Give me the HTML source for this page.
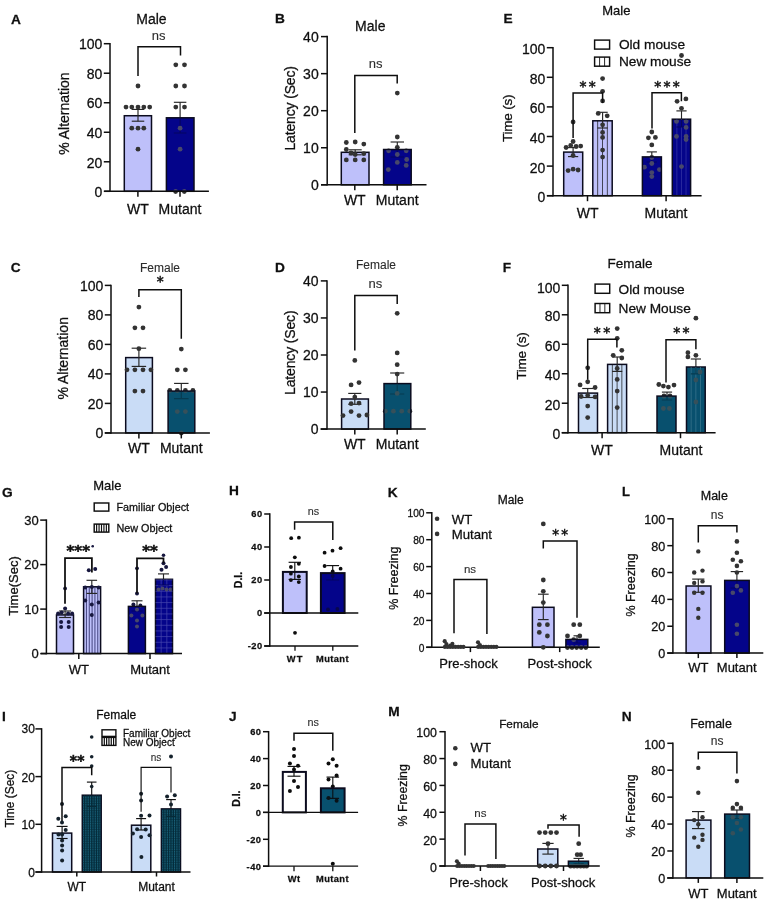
<!DOCTYPE html>
<html lang="en">
<head>
<meta charset="utf-8">
<title>Figure</title>
<style>
html,body{margin:0;padding:0;background:#fff;}
body{width:767px;height:903px;overflow:hidden;}
svg{display:block;font-family:"Liberation Sans",Arial,sans-serif;}
text{stroke:#1a1a1a;stroke-width:0.28px;paint-order:stroke fill;}
</style>
</head>
<body>
<svg width="767" height="903" viewBox="0 0 767 903">
<rect x="0" y="0" width="767" height="903" fill="#ffffff"/>
<g>
<text x="16" y="23.53" font-size="13.7" text-anchor="middle" font-weight="bold" fill="#0e0e0e">A</text>
<text x="151.5" y="23.64" font-size="14" text-anchor="middle" font-weight="normal" fill="#0e0e0e">Male</text>
<rect x="124.3" y="115.73" width="27.2" height="75.57" fill="#bec0fa" stroke="#0b0b1e" stroke-width="1.5"/>
<line x1="180.1" y1="102.3" x2="180.1" y2="133" stroke="#262626" stroke-width="1.15"/>
<line x1="173.85" y1="102.3" x2="186.35" y2="102.3" stroke="#262626" stroke-width="1.15"/>
<line x1="173.85" y1="133" x2="186.35" y2="133" stroke="#262626" stroke-width="1.15"/>
<circle cx="175.8" cy="64.8" r="2.4" fill="#333333"/>
<circle cx="184.5" cy="64.8" r="2.4" fill="#333333"/>
<circle cx="175.8" cy="86" r="2.4" fill="#333333"/>
<circle cx="184.5" cy="86" r="2.4" fill="#333333"/>
<circle cx="175.8" cy="107.1" r="2.4" fill="#333333"/>
<circle cx="184.5" cy="107.1" r="2.4" fill="#333333"/>
<circle cx="180.1" cy="128.2" r="2.4" fill="#333333"/>
<circle cx="180.1" cy="149.2" r="2.4" fill="#333333"/>
<circle cx="175.6" cy="191.5" r="2.4" fill="#333333"/>
<circle cx="184.3" cy="191.5" r="2.4" fill="#333333"/>
<rect x="166.4" y="117.8" width="27.6" height="73.5" fill="#04048a" stroke="#0b0b1e" stroke-width="1.5"/>
<clipPath id="cb1"><rect x="167.15" y="118.55" width="26.1" height="72"/></clipPath>
<g clip-path="url(#cb1)">
<line x1="180.1" y1="102.3" x2="180.1" y2="133" stroke="#050560" stroke-width="1.15"/>
<line x1="173.85" y1="102.3" x2="186.35" y2="102.3" stroke="#050560" stroke-width="1.15"/>
<line x1="173.85" y1="133" x2="186.35" y2="133" stroke="#050560" stroke-width="1.15"/>
<circle cx="175.8" cy="64.8" r="2.4" fill="#48486a"/>
<circle cx="184.5" cy="64.8" r="2.4" fill="#48486a"/>
<circle cx="175.8" cy="86" r="2.4" fill="#48486a"/>
<circle cx="184.5" cy="86" r="2.4" fill="#48486a"/>
<circle cx="175.8" cy="107.1" r="2.4" fill="#48486a"/>
<circle cx="184.5" cy="107.1" r="2.4" fill="#48486a"/>
<circle cx="180.1" cy="128.2" r="2.4" fill="#48486a"/>
<circle cx="180.1" cy="149.2" r="2.4" fill="#48486a"/>
<circle cx="175.6" cy="191.5" r="2.4" fill="#48486a"/>
<circle cx="184.3" cy="191.5" r="2.4" fill="#48486a"/>
</g>
<line x1="110" y1="42.95" x2="110" y2="192.05" stroke="#0e0e0e" stroke-width="1.5"/>
<line x1="103.8" y1="191.3" x2="110" y2="191.3" stroke="#0e0e0e" stroke-width="1.5"/>
<text x="102.4" y="197.04" font-size="14" text-anchor="end" font-weight="normal" fill="#0e0e0e">0</text>
<line x1="103.8" y1="161.78" x2="110" y2="161.78" stroke="#0e0e0e" stroke-width="1.5"/>
<text x="102.4" y="167.52" font-size="14" text-anchor="end" font-weight="normal" fill="#0e0e0e">20</text>
<line x1="103.8" y1="132.26" x2="110" y2="132.26" stroke="#0e0e0e" stroke-width="1.5"/>
<text x="102.4" y="138" font-size="14" text-anchor="end" font-weight="normal" fill="#0e0e0e">40</text>
<line x1="103.8" y1="102.74" x2="110" y2="102.74" stroke="#0e0e0e" stroke-width="1.5"/>
<text x="102.4" y="108.48" font-size="14" text-anchor="end" font-weight="normal" fill="#0e0e0e">60</text>
<line x1="103.8" y1="73.22" x2="110" y2="73.22" stroke="#0e0e0e" stroke-width="1.5"/>
<text x="102.4" y="78.96" font-size="14" text-anchor="end" font-weight="normal" fill="#0e0e0e">80</text>
<line x1="103.8" y1="43.7" x2="110" y2="43.7" stroke="#0e0e0e" stroke-width="1.5"/>
<text x="102.4" y="49.44" font-size="14" text-anchor="end" font-weight="normal" fill="#0e0e0e">100</text>
<line x1="104.2" y1="191.3" x2="208.9" y2="191.3" stroke="#0e0e0e" stroke-width="1.5"/>
<line x1="137.9" y1="191.3" x2="137.9" y2="196.8" stroke="#0e0e0e" stroke-width="1.5"/>
<line x1="180" y1="191.3" x2="180" y2="196.8" stroke="#0e0e0e" stroke-width="1.5"/>
<line x1="138" y1="109.4" x2="138" y2="121.2" stroke="#262626" stroke-width="1.15"/>
<line x1="131.75" y1="109.4" x2="144.25" y2="109.4" stroke="#262626" stroke-width="1.15"/>
<line x1="131.75" y1="121.2" x2="144.25" y2="121.2" stroke="#262626" stroke-width="1.15"/>
<circle cx="138" cy="86" r="2.4" fill="#333333"/>
<circle cx="126" cy="107.1" r="2.4" fill="#333333"/>
<circle cx="131.8" cy="107.1" r="2.4" fill="#333333"/>
<circle cx="138" cy="107.1" r="2.4" fill="#333333"/>
<circle cx="143.8" cy="107.1" r="2.4" fill="#333333"/>
<circle cx="149.7" cy="107.1" r="2.4" fill="#333333"/>
<circle cx="131.8" cy="128.2" r="2.4" fill="#333333"/>
<circle cx="138" cy="128.2" r="2.4" fill="#333333"/>
<circle cx="143.8" cy="128.2" r="2.4" fill="#333333"/>
<circle cx="138" cy="149.2" r="2.4" fill="#333333"/>
<polyline points="138,76 138,46.7 180.5,46.7 180.5,55.6" fill="none" stroke="#0e0e0e" stroke-width="1.5"/>
<text x="158.6" y="40.18" font-size="13" text-anchor="middle" font-weight="normal" fill="#2b2b2b" style="stroke-width:0.1px">ns</text>
<text x="137.9" y="213.84" font-size="14" text-anchor="middle" font-weight="normal" fill="#0e0e0e">WT</text>
<text x="180" y="213.84" font-size="14" text-anchor="middle" font-weight="normal" fill="#0e0e0e">Mutant</text>
<text transform="translate(63.6 113.6) rotate(-90)" x="0" y="5.04" font-size="14" text-anchor="middle" font-weight="normal" fill="#0e0e0e">% Alternation</text>
</g>
<g>
<text x="280" y="23.23" font-size="13.7" text-anchor="middle" font-weight="bold" fill="#0e0e0e">B</text>
<text x="370.3" y="31.04" font-size="14" text-anchor="middle" font-weight="normal" fill="#0e0e0e">Male</text>
<rect x="341.3" y="152.3" width="27.7" height="32.5" fill="#bec0fa" stroke="#0b0b1e" stroke-width="1.5"/>
<line x1="397.3" y1="142" x2="397.3" y2="157" stroke="#262626" stroke-width="1.15"/>
<line x1="390.6" y1="142" x2="404" y2="142" stroke="#262626" stroke-width="1.15"/>
<line x1="390.6" y1="157" x2="404" y2="157" stroke="#262626" stroke-width="1.15"/>
<circle cx="397.3" cy="93.1" r="2.4" fill="#333333"/>
<circle cx="397.3" cy="137" r="2.4" fill="#333333"/>
<circle cx="397.3" cy="147.3" r="2.4" fill="#333333"/>
<circle cx="388.6" cy="150.8" r="2.4" fill="#333333"/>
<circle cx="406.2" cy="150.8" r="2.4" fill="#333333"/>
<circle cx="397.3" cy="154.5" r="2.4" fill="#333333"/>
<circle cx="406.7" cy="159.5" r="2.4" fill="#333333"/>
<circle cx="397.3" cy="162.4" r="2.4" fill="#333333"/>
<circle cx="406.2" cy="165.4" r="2.4" fill="#333333"/>
<circle cx="388.3" cy="169.6" r="2.4" fill="#333333"/>
<rect x="383.6" y="149.5" width="27.6" height="35.3" fill="#04048a" stroke="#0b0b1e" stroke-width="1.5"/>
<clipPath id="cb2"><rect x="384.35" y="150.25" width="26.1" height="33.8"/></clipPath>
<g clip-path="url(#cb2)">
<line x1="397.3" y1="142" x2="397.3" y2="157" stroke="#050560" stroke-width="1.15"/>
<line x1="390.6" y1="142" x2="404" y2="142" stroke="#050560" stroke-width="1.15"/>
<line x1="390.6" y1="157" x2="404" y2="157" stroke="#050560" stroke-width="1.15"/>
<circle cx="397.3" cy="93.1" r="2.4" fill="#48486a"/>
<circle cx="397.3" cy="137" r="2.4" fill="#48486a"/>
<circle cx="397.3" cy="147.3" r="2.4" fill="#48486a"/>
<circle cx="388.6" cy="150.8" r="2.4" fill="#48486a"/>
<circle cx="406.2" cy="150.8" r="2.4" fill="#48486a"/>
<circle cx="397.3" cy="154.5" r="2.4" fill="#48486a"/>
<circle cx="406.7" cy="159.5" r="2.4" fill="#48486a"/>
<circle cx="397.3" cy="162.4" r="2.4" fill="#48486a"/>
<circle cx="406.2" cy="165.4" r="2.4" fill="#48486a"/>
<circle cx="388.3" cy="169.6" r="2.4" fill="#48486a"/>
</g>
<line x1="327.2" y1="35.85" x2="327.2" y2="185.55" stroke="#0e0e0e" stroke-width="1.5"/>
<line x1="321" y1="184.8" x2="327.2" y2="184.8" stroke="#0e0e0e" stroke-width="1.5"/>
<text x="318.7" y="190.14" font-size="14" text-anchor="end" font-weight="normal" fill="#0e0e0e">0</text>
<line x1="321" y1="147.75" x2="327.2" y2="147.75" stroke="#0e0e0e" stroke-width="1.5"/>
<text x="318.7" y="153.09" font-size="14" text-anchor="end" font-weight="normal" fill="#0e0e0e">10</text>
<line x1="321" y1="110.7" x2="327.2" y2="110.7" stroke="#0e0e0e" stroke-width="1.5"/>
<text x="318.7" y="116.04" font-size="14" text-anchor="end" font-weight="normal" fill="#0e0e0e">20</text>
<line x1="321" y1="73.65" x2="327.2" y2="73.65" stroke="#0e0e0e" stroke-width="1.5"/>
<text x="318.7" y="78.99" font-size="14" text-anchor="end" font-weight="normal" fill="#0e0e0e">30</text>
<line x1="321" y1="36.6" x2="327.2" y2="36.6" stroke="#0e0e0e" stroke-width="1.5"/>
<text x="318.7" y="41.94" font-size="14" text-anchor="end" font-weight="normal" fill="#0e0e0e">40</text>
<line x1="321" y1="184.8" x2="426.5" y2="184.8" stroke="#0e0e0e" stroke-width="1.5"/>
<line x1="354.8" y1="184.8" x2="354.8" y2="190.3" stroke="#0e0e0e" stroke-width="1.5"/>
<line x1="397.2" y1="184.8" x2="397.2" y2="190.3" stroke="#0e0e0e" stroke-width="1.5"/>
<line x1="355.2" y1="149.8" x2="355.2" y2="154.8" stroke="#262626" stroke-width="1.15"/>
<line x1="348.7" y1="149.8" x2="361.7" y2="149.8" stroke="#262626" stroke-width="1.15"/>
<line x1="348.7" y1="154.8" x2="361.7" y2="154.8" stroke="#262626" stroke-width="1.15"/>
<circle cx="346.3" cy="142.5" r="2.4" fill="#333333"/>
<circle cx="355.2" cy="142" r="2.4" fill="#333333"/>
<circle cx="363.8" cy="144.1" r="2.4" fill="#333333"/>
<circle cx="346.3" cy="149.5" r="2.4" fill="#333333"/>
<circle cx="351" cy="153" r="2.4" fill="#333333"/>
<circle cx="355.2" cy="154.5" r="2.4" fill="#333333"/>
<circle cx="363.8" cy="153.7" r="2.4" fill="#333333"/>
<circle cx="346.3" cy="159.9" r="2.4" fill="#333333"/>
<circle cx="355.2" cy="159.9" r="2.4" fill="#333333"/>
<circle cx="363.8" cy="159.9" r="2.4" fill="#333333"/>
<polyline points="354.8,133.1 354.8,75.4 397.2,75.4 397.2,83.4" fill="none" stroke="#0e0e0e" stroke-width="1.5"/>
<text x="375.7" y="67.58" font-size="13" text-anchor="middle" font-weight="normal" fill="#2b2b2b" style="stroke-width:0.1px">ns</text>
<text x="354.8" y="205.04" font-size="14" text-anchor="middle" font-weight="normal" fill="#0e0e0e">WT</text>
<text x="397.2" y="205.04" font-size="14" text-anchor="middle" font-weight="normal" fill="#0e0e0e">Mutant</text>
<text transform="translate(290 108.3) rotate(-90)" x="-0.07" y="5.04" font-size="14" text-anchor="middle" font-weight="normal" fill="#0e0e0e" letter-spacing="-0.15">Latency (Sec)</text>
</g>
<g>
<text x="508" y="23.23" font-size="13.7" text-anchor="middle" font-weight="bold" fill="#0e0e0e">E</text>
<text x="616.3" y="14.68" font-size="13" text-anchor="middle" font-weight="normal" fill="#0e0e0e">Male</text>
<rect x="563.7" y="152.1" width="19" height="43.6" fill="#bec0fa" stroke="#0b0b1e" stroke-width="1.5"/>
<rect x="592.8" y="120.8" width="19.4" height="74.9" fill="#bec0fa" stroke="#0b0b1e" stroke-width="1.5"/>
<line x1="597.65" y1="120.8" x2="597.65" y2="195.7" stroke="#0e0e0e" stroke-width="0.7"/>
<line x1="602.5" y1="120.8" x2="602.5" y2="195.7" stroke="#0e0e0e" stroke-width="0.7"/>
<line x1="607.35" y1="120.8" x2="607.35" y2="195.7" stroke="#0e0e0e" stroke-width="0.7"/>
<line x1="651.8" y1="151.9" x2="651.8" y2="162" stroke="#262626" stroke-width="1.15"/>
<line x1="646.7" y1="151.9" x2="656.9" y2="151.9" stroke="#262626" stroke-width="1.15"/>
<line x1="646.7" y1="162" x2="656.9" y2="162" stroke="#262626" stroke-width="1.15"/>
<circle cx="651.8" cy="132" r="2.4" fill="#333333"/>
<circle cx="648.4" cy="137.8" r="2.4" fill="#333333"/>
<circle cx="655.4" cy="137.4" r="2.4" fill="#333333"/>
<circle cx="651.8" cy="144.9" r="2.4" fill="#333333"/>
<circle cx="651.8" cy="157.5" r="2.4" fill="#333333"/>
<circle cx="651.8" cy="163.5" r="2.4" fill="#333333"/>
<circle cx="644.4" cy="167.2" r="2.4" fill="#333333"/>
<circle cx="659.4" cy="169.6" r="2.4" fill="#333333"/>
<circle cx="651.8" cy="172.6" r="2.4" fill="#333333"/>
<circle cx="651.8" cy="176.6" r="2.4" fill="#333333"/>
<rect x="642.4" y="156.9" width="19" height="38.8" fill="#04048a" stroke="#0b0b1e" stroke-width="1.5"/>
<clipPath id="cb3"><rect x="643.15" y="157.65" width="17.5" height="37.3"/></clipPath>
<g clip-path="url(#cb3)">
<line x1="651.8" y1="151.9" x2="651.8" y2="162" stroke="#050560" stroke-width="1.15"/>
<line x1="646.7" y1="151.9" x2="656.9" y2="151.9" stroke="#050560" stroke-width="1.15"/>
<line x1="646.7" y1="162" x2="656.9" y2="162" stroke="#050560" stroke-width="1.15"/>
<circle cx="651.8" cy="132" r="2.4" fill="#48486a"/>
<circle cx="648.4" cy="137.8" r="2.4" fill="#48486a"/>
<circle cx="655.4" cy="137.4" r="2.4" fill="#48486a"/>
<circle cx="651.8" cy="144.9" r="2.4" fill="#48486a"/>
<circle cx="651.8" cy="157.5" r="2.4" fill="#48486a"/>
<circle cx="651.8" cy="163.5" r="2.4" fill="#48486a"/>
<circle cx="644.4" cy="167.2" r="2.4" fill="#48486a"/>
<circle cx="659.4" cy="169.6" r="2.4" fill="#48486a"/>
<circle cx="651.8" cy="172.6" r="2.4" fill="#48486a"/>
<circle cx="651.8" cy="176.6" r="2.4" fill="#48486a"/>
</g>
<line x1="681.5" y1="110.9" x2="681.5" y2="127" stroke="#262626" stroke-width="1.15"/>
<line x1="676.4" y1="110.9" x2="686.6" y2="110.9" stroke="#262626" stroke-width="1.15"/>
<line x1="676.4" y1="127" x2="686.6" y2="127" stroke="#262626" stroke-width="1.15"/>
<circle cx="681.5" cy="55.5" r="2.4" fill="#333333"/>
<circle cx="677.1" cy="101.3" r="2.4" fill="#333333"/>
<circle cx="685.9" cy="98.9" r="2.4" fill="#333333"/>
<circle cx="681.5" cy="108.3" r="2.4" fill="#333333"/>
<circle cx="676.5" cy="121.4" r="2.4" fill="#333333"/>
<circle cx="686.1" cy="121.4" r="2.4" fill="#333333"/>
<circle cx="686.1" cy="127.4" r="2.4" fill="#333333"/>
<circle cx="676.5" cy="136.4" r="2.4" fill="#333333"/>
<circle cx="686.1" cy="136.4" r="2.4" fill="#333333"/>
<circle cx="686.1" cy="139.5" r="2.4" fill="#333333"/>
<circle cx="681.5" cy="166.6" r="2.4" fill="#333333"/>
<rect x="672.3" y="119.2" width="18.3" height="76.5" fill="#04048a" stroke="#0b0b1e" stroke-width="1.5"/>
<line x1="676.88" y1="119.2" x2="676.88" y2="195.7" stroke="#3a3aa8" stroke-width="0.7"/>
<line x1="681.45" y1="119.2" x2="681.45" y2="195.7" stroke="#3a3aa8" stroke-width="0.7"/>
<line x1="686.02" y1="119.2" x2="686.02" y2="195.7" stroke="#3a3aa8" stroke-width="0.7"/>
<clipPath id="cb4"><rect x="673.05" y="119.95" width="16.8" height="75"/></clipPath>
<g clip-path="url(#cb4)">
<line x1="681.5" y1="110.9" x2="681.5" y2="127" stroke="#050560" stroke-width="1.15"/>
<line x1="676.4" y1="110.9" x2="686.6" y2="110.9" stroke="#050560" stroke-width="1.15"/>
<line x1="676.4" y1="127" x2="686.6" y2="127" stroke="#050560" stroke-width="1.15"/>
<circle cx="681.5" cy="55.5" r="2.4" fill="#48486a"/>
<circle cx="677.1" cy="101.3" r="2.4" fill="#48486a"/>
<circle cx="685.9" cy="98.9" r="2.4" fill="#48486a"/>
<circle cx="681.5" cy="108.3" r="2.4" fill="#48486a"/>
<circle cx="676.5" cy="121.4" r="2.4" fill="#48486a"/>
<circle cx="686.1" cy="121.4" r="2.4" fill="#48486a"/>
<circle cx="686.1" cy="127.4" r="2.4" fill="#48486a"/>
<circle cx="676.5" cy="136.4" r="2.4" fill="#48486a"/>
<circle cx="686.1" cy="136.4" r="2.4" fill="#48486a"/>
<circle cx="686.1" cy="139.5" r="2.4" fill="#48486a"/>
<circle cx="681.5" cy="166.6" r="2.4" fill="#48486a"/>
</g>
<line x1="553" y1="46.95" x2="553" y2="196.45" stroke="#0e0e0e" stroke-width="1.5"/>
<line x1="546.8" y1="195.7" x2="553" y2="195.7" stroke="#0e0e0e" stroke-width="1.5"/>
<text x="545.4" y="202.14" font-size="14" text-anchor="end" font-weight="normal" fill="#0e0e0e">0</text>
<line x1="546.8" y1="166.1" x2="553" y2="166.1" stroke="#0e0e0e" stroke-width="1.5"/>
<text x="545.4" y="172.54" font-size="14" text-anchor="end" font-weight="normal" fill="#0e0e0e">20</text>
<line x1="546.8" y1="136.5" x2="553" y2="136.5" stroke="#0e0e0e" stroke-width="1.5"/>
<text x="545.4" y="142.94" font-size="14" text-anchor="end" font-weight="normal" fill="#0e0e0e">40</text>
<line x1="546.8" y1="106.9" x2="553" y2="106.9" stroke="#0e0e0e" stroke-width="1.5"/>
<text x="545.4" y="113.34" font-size="14" text-anchor="end" font-weight="normal" fill="#0e0e0e">60</text>
<line x1="546.8" y1="77.3" x2="553" y2="77.3" stroke="#0e0e0e" stroke-width="1.5"/>
<text x="545.4" y="83.74" font-size="14" text-anchor="end" font-weight="normal" fill="#0e0e0e">80</text>
<line x1="546.8" y1="47.7" x2="553" y2="47.7" stroke="#0e0e0e" stroke-width="1.5"/>
<text x="545.4" y="54.14" font-size="14" text-anchor="end" font-weight="normal" fill="#0e0e0e">100</text>
<line x1="547" y1="195.7" x2="701.6" y2="195.7" stroke="#0e0e0e" stroke-width="1.5"/>
<line x1="587.5" y1="195.7" x2="587.5" y2="201.2" stroke="#0e0e0e" stroke-width="1.5"/>
<line x1="666.1" y1="195.7" x2="666.1" y2="201.2" stroke="#0e0e0e" stroke-width="1.5"/>
<rect x="594.6" y="40.1" width="15" height="9" fill="#fff" stroke="#0e0e0e" stroke-width="1.45"/>
<rect x="594.6" y="57.1" width="15" height="9.1" fill="#fff" stroke="#0e0e0e" stroke-width="1.45"/>
<line x1="599.6" y1="57.1" x2="599.6" y2="66.2" stroke="#0e0e0e" stroke-width="0.9"/>
<line x1="604.6" y1="57.1" x2="604.6" y2="66.2" stroke="#0e0e0e" stroke-width="0.9"/>
<text x="618.9" y="49.43" font-size="13.7" text-anchor="start" font-weight="normal" fill="#0e0e0e">Old mouse</text>
<text x="618.9" y="66.43" font-size="13.7" text-anchor="start" font-weight="normal" fill="#0e0e0e">New mouse</text>
<line x1="573.1" y1="147.6" x2="573.1" y2="156.6" stroke="#262626" stroke-width="1.15"/>
<line x1="568" y1="147.6" x2="578.2" y2="147.6" stroke="#262626" stroke-width="1.15"/>
<line x1="568" y1="156.6" x2="578.2" y2="156.6" stroke="#262626" stroke-width="1.15"/>
<line x1="602.6" y1="112.3" x2="602.6" y2="128" stroke="#262626" stroke-width="1.15"/>
<line x1="597.5" y1="112.3" x2="607.7" y2="112.3" stroke="#262626" stroke-width="1.15"/>
<line x1="597.5" y1="128" x2="607.7" y2="128" stroke="#262626" stroke-width="1.15"/>
<circle cx="573.1" cy="122" r="2.4" fill="#333333"/>
<circle cx="573.1" cy="141.5" r="2.4" fill="#333333"/>
<circle cx="566.1" cy="147.5" r="2.4" fill="#333333"/>
<circle cx="570.7" cy="145.5" r="2.4" fill="#333333"/>
<circle cx="576.1" cy="146.5" r="2.4" fill="#333333"/>
<circle cx="580.7" cy="146.1" r="2.4" fill="#333333"/>
<circle cx="573.1" cy="155.5" r="2.4" fill="#333333"/>
<circle cx="568.1" cy="170.6" r="2.4" fill="#333333"/>
<circle cx="573.1" cy="169.2" r="2.4" fill="#333333"/>
<circle cx="578.1" cy="170" r="2.4" fill="#333333"/>
<circle cx="602.6" cy="78.6" r="2.4" fill="#333333"/>
<circle cx="602.6" cy="91.3" r="2.4" fill="#333333"/>
<circle cx="602.6" cy="100.9" r="2.4" fill="#333333"/>
<circle cx="598.2" cy="113.4" r="2.4" fill="#333333"/>
<circle cx="607.2" cy="115.8" r="2.4" fill="#333333"/>
<circle cx="602.6" cy="124.8" r="2.4" fill="#333333"/>
<circle cx="602.6" cy="132.4" r="2.4" fill="#333333"/>
<circle cx="602.6" cy="137.4" r="2.4" fill="#333333"/>
<circle cx="602.6" cy="150.1" r="2.4" fill="#333333"/>
<circle cx="602.6" cy="157.1" r="2.4" fill="#333333"/>
<polyline points="573.1,138 573.1,93 602.6,93 602.6,103" fill="none" stroke="#0e0e0e" stroke-width="1.5"/>
<polyline points="652,128.5 652,92.8 681.4,92.8 681.4,101.3" fill="none" stroke="#0e0e0e" stroke-width="1.5"/>
<text x="588.77" y="91.2" font-size="13.9" text-anchor="middle" font-weight="normal" fill="#0e0e0e" font-family="DejaVu Sans, Liberation Sans, sans-serif" letter-spacing="2.35" style="stroke-width:0.5px">**</text>
<text x="668.17" y="91.2" font-size="13.9" text-anchor="middle" font-weight="normal" fill="#0e0e0e" font-family="DejaVu Sans, Liberation Sans, sans-serif" letter-spacing="2.35" style="stroke-width:0.5px">***</text>
<text x="587.7" y="217.74" font-size="14" text-anchor="middle" font-weight="normal" fill="#0e0e0e">WT</text>
<text x="666" y="217.74" font-size="14" text-anchor="middle" font-weight="normal" fill="#0e0e0e">Mutant</text>
<text transform="translate(506.7 118.3) rotate(-90)" x="-0.12" y="4.9" font-size="13.6" text-anchor="middle" font-weight="normal" fill="#0e0e0e" letter-spacing="-0.25">Time (s)</text>
</g>
<g>
<text x="15.7" y="271.63" font-size="13.7" text-anchor="middle" font-weight="bold" fill="#0e0e0e">C</text>
<text x="160" y="271.52" font-size="12" text-anchor="middle" font-weight="normal" fill="#2b2b2b" style="stroke-width:0.1px">Female</text>
<rect x="125.7" y="357.6" width="26.7" height="75.3" fill="#c9dcf6" stroke="#0b0b1e" stroke-width="1.5"/>
<line x1="181.3" y1="383.4" x2="181.3" y2="398.6" stroke="#262626" stroke-width="1.15"/>
<line x1="174.05" y1="383.4" x2="188.55" y2="383.4" stroke="#262626" stroke-width="1.15"/>
<line x1="174.05" y1="398.6" x2="188.55" y2="398.6" stroke="#262626" stroke-width="1.15"/>
<circle cx="181.3" cy="349.1" r="2.4" fill="#333333"/>
<circle cx="177.3" cy="369.8" r="2.4" fill="#333333"/>
<circle cx="185.4" cy="369.8" r="2.4" fill="#333333"/>
<circle cx="169.8" cy="390.5" r="2.4" fill="#333333"/>
<circle cx="177.3" cy="390.5" r="2.4" fill="#333333"/>
<circle cx="185.4" cy="390.5" r="2.4" fill="#333333"/>
<circle cx="192.9" cy="390.5" r="2.4" fill="#333333"/>
<circle cx="177.3" cy="411.6" r="2.4" fill="#333333"/>
<circle cx="185.4" cy="411.6" r="2.4" fill="#333333"/>
<circle cx="181.3" cy="433" r="2.4" fill="#333333"/>
<rect x="168.1" y="391.1" width="26.7" height="41.8" fill="#08506e" stroke="#0b0b1e" stroke-width="1.5"/>
<clipPath id="cb5"><rect x="168.85" y="391.85" width="25.2" height="40.3"/></clipPath>
<g clip-path="url(#cb5)">
<line x1="181.3" y1="383.4" x2="181.3" y2="398.6" stroke="#063b51" stroke-width="1.15"/>
<line x1="174.05" y1="383.4" x2="188.55" y2="383.4" stroke="#063b51" stroke-width="1.15"/>
<line x1="174.05" y1="398.6" x2="188.55" y2="398.6" stroke="#063b51" stroke-width="1.15"/>
<circle cx="181.3" cy="349.1" r="2.4" fill="#36505a"/>
<circle cx="177.3" cy="369.8" r="2.4" fill="#36505a"/>
<circle cx="185.4" cy="369.8" r="2.4" fill="#36505a"/>
<circle cx="169.8" cy="390.5" r="2.4" fill="#36505a"/>
<circle cx="177.3" cy="390.5" r="2.4" fill="#36505a"/>
<circle cx="185.4" cy="390.5" r="2.4" fill="#36505a"/>
<circle cx="192.9" cy="390.5" r="2.4" fill="#36505a"/>
<circle cx="177.3" cy="411.6" r="2.4" fill="#36505a"/>
<circle cx="185.4" cy="411.6" r="2.4" fill="#36505a"/>
<circle cx="181.3" cy="433" r="2.4" fill="#36505a"/>
</g>
<line x1="111" y1="284.65" x2="111" y2="433.65" stroke="#0e0e0e" stroke-width="1.5"/>
<line x1="104.8" y1="432.9" x2="111" y2="432.9" stroke="#0e0e0e" stroke-width="1.5"/>
<text x="103.4" y="438.44" font-size="14" text-anchor="end" font-weight="normal" fill="#0e0e0e">0</text>
<line x1="104.8" y1="403.4" x2="111" y2="403.4" stroke="#0e0e0e" stroke-width="1.5"/>
<text x="103.4" y="408.94" font-size="14" text-anchor="end" font-weight="normal" fill="#0e0e0e">20</text>
<line x1="104.8" y1="373.9" x2="111" y2="373.9" stroke="#0e0e0e" stroke-width="1.5"/>
<text x="103.4" y="379.44" font-size="14" text-anchor="end" font-weight="normal" fill="#0e0e0e">40</text>
<line x1="104.8" y1="344.4" x2="111" y2="344.4" stroke="#0e0e0e" stroke-width="1.5"/>
<text x="103.4" y="349.94" font-size="14" text-anchor="end" font-weight="normal" fill="#0e0e0e">60</text>
<line x1="104.8" y1="314.9" x2="111" y2="314.9" stroke="#0e0e0e" stroke-width="1.5"/>
<text x="103.4" y="320.44" font-size="14" text-anchor="end" font-weight="normal" fill="#0e0e0e">80</text>
<line x1="104.8" y1="285.4" x2="111" y2="285.4" stroke="#0e0e0e" stroke-width="1.5"/>
<text x="103.4" y="290.94" font-size="14" text-anchor="end" font-weight="normal" fill="#0e0e0e">100</text>
<line x1="104.8" y1="432.9" x2="209.9" y2="432.9" stroke="#0e0e0e" stroke-width="1.5"/>
<line x1="138.9" y1="432.9" x2="138.9" y2="438.4" stroke="#0e0e0e" stroke-width="1.5"/>
<line x1="181.3" y1="432.9" x2="181.3" y2="438.4" stroke="#0e0e0e" stroke-width="1.5"/>
<line x1="138.9" y1="348.2" x2="138.9" y2="366.4" stroke="#262626" stroke-width="1.15"/>
<line x1="131.65" y1="348.2" x2="146.15" y2="348.2" stroke="#262626" stroke-width="1.15"/>
<line x1="131.65" y1="366.4" x2="146.15" y2="366.4" stroke="#262626" stroke-width="1.15"/>
<circle cx="138.9" cy="307.1" r="2.4" fill="#333333"/>
<circle cx="134.9" cy="327.8" r="2.4" fill="#333333"/>
<circle cx="143" cy="327.8" r="2.4" fill="#333333"/>
<circle cx="138.9" cy="348.7" r="2.4" fill="#333333"/>
<circle cx="127" cy="369.8" r="2.4" fill="#333333"/>
<circle cx="134.9" cy="369.8" r="2.4" fill="#333333"/>
<circle cx="143" cy="369.8" r="2.4" fill="#333333"/>
<circle cx="150.9" cy="369.8" r="2.4" fill="#333333"/>
<circle cx="134.9" cy="391.1" r="2.4" fill="#333333"/>
<circle cx="143" cy="391.1" r="2.4" fill="#333333"/>
<polyline points="138.9,296.9 138.9,289.7 181.3,289.7 181.3,338.7" fill="none" stroke="#0e0e0e" stroke-width="1.5"/>
<text x="161.48" y="285.9" font-size="13.9" text-anchor="middle" font-weight="normal" fill="#0e0e0e" font-family="DejaVu Sans, Liberation Sans, sans-serif" letter-spacing="2.35" style="stroke-width:0.5px">*</text>
<text x="138.9" y="453.34" font-size="14" text-anchor="middle" font-weight="normal" fill="#0e0e0e">WT</text>
<text x="181.3" y="453.34" font-size="14" text-anchor="middle" font-weight="normal" fill="#0e0e0e">Mutant</text>
<text transform="translate(63.3 358.3) rotate(-90)" x="0" y="5.04" font-size="14" text-anchor="middle" font-weight="normal" fill="#0e0e0e">% Alternation</text>
</g>
<g>
<text x="280" y="271.63" font-size="13.7" text-anchor="middle" font-weight="bold" fill="#0e0e0e">D</text>
<text x="376" y="268.92" font-size="12" text-anchor="middle" font-weight="normal" fill="#2b2b2b" style="stroke-width:0.1px">Female</text>
<rect x="341.6" y="399" width="26.8" height="30.1" fill="#c9dcf6" stroke="#0b0b1e" stroke-width="1.5"/>
<line x1="397.2" y1="373" x2="397.2" y2="394" stroke="#262626" stroke-width="1.15"/>
<line x1="390.15" y1="373" x2="404.25" y2="373" stroke="#262626" stroke-width="1.15"/>
<line x1="390.15" y1="394" x2="404.25" y2="394" stroke="#262626" stroke-width="1.15"/>
<circle cx="397.2" cy="313.3" r="2.4" fill="#333333"/>
<circle cx="397.2" cy="352.9" r="2.4" fill="#333333"/>
<circle cx="397.2" cy="364.7" r="2.4" fill="#333333"/>
<circle cx="397.2" cy="374.1" r="2.4" fill="#333333"/>
<circle cx="397.2" cy="393.4" r="2.4" fill="#333333"/>
<circle cx="385.3" cy="411.2" r="2.4" fill="#333333"/>
<circle cx="393.4" cy="411.2" r="2.4" fill="#333333"/>
<circle cx="401.7" cy="411.2" r="2.4" fill="#333333"/>
<circle cx="409.8" cy="411.2" r="2.4" fill="#333333"/>
<rect x="384" y="383.6" width="26.8" height="45.5" fill="#08506e" stroke="#0b0b1e" stroke-width="1.5"/>
<clipPath id="cb6"><rect x="384.75" y="384.35" width="25.3" height="44"/></clipPath>
<g clip-path="url(#cb6)">
<line x1="397.2" y1="373" x2="397.2" y2="394" stroke="#063b51" stroke-width="1.15"/>
<line x1="390.15" y1="373" x2="404.25" y2="373" stroke="#063b51" stroke-width="1.15"/>
<line x1="390.15" y1="394" x2="404.25" y2="394" stroke="#063b51" stroke-width="1.15"/>
<circle cx="397.2" cy="313.3" r="2.4" fill="#36505a"/>
<circle cx="397.2" cy="352.9" r="2.4" fill="#36505a"/>
<circle cx="397.2" cy="364.7" r="2.4" fill="#36505a"/>
<circle cx="397.2" cy="374.1" r="2.4" fill="#36505a"/>
<circle cx="397.2" cy="393.4" r="2.4" fill="#36505a"/>
<circle cx="385.3" cy="411.2" r="2.4" fill="#36505a"/>
<circle cx="393.4" cy="411.2" r="2.4" fill="#36505a"/>
<circle cx="401.7" cy="411.2" r="2.4" fill="#36505a"/>
<circle cx="409.8" cy="411.2" r="2.4" fill="#36505a"/>
</g>
<line x1="327" y1="280.15" x2="327" y2="429.85" stroke="#0e0e0e" stroke-width="1.5"/>
<line x1="320.8" y1="429.1" x2="327" y2="429.1" stroke="#0e0e0e" stroke-width="1.5"/>
<text x="318.5" y="434.44" font-size="14" text-anchor="end" font-weight="normal" fill="#0e0e0e">0</text>
<line x1="320.8" y1="392.05" x2="327" y2="392.05" stroke="#0e0e0e" stroke-width="1.5"/>
<text x="318.5" y="397.39" font-size="14" text-anchor="end" font-weight="normal" fill="#0e0e0e">10</text>
<line x1="320.8" y1="355" x2="327" y2="355" stroke="#0e0e0e" stroke-width="1.5"/>
<text x="318.5" y="360.34" font-size="14" text-anchor="end" font-weight="normal" fill="#0e0e0e">20</text>
<line x1="320.8" y1="317.95" x2="327" y2="317.95" stroke="#0e0e0e" stroke-width="1.5"/>
<text x="318.5" y="323.29" font-size="14" text-anchor="end" font-weight="normal" fill="#0e0e0e">30</text>
<line x1="320.8" y1="280.9" x2="327" y2="280.9" stroke="#0e0e0e" stroke-width="1.5"/>
<text x="318.5" y="286.24" font-size="14" text-anchor="end" font-weight="normal" fill="#0e0e0e">40</text>
<line x1="320.6" y1="429.1" x2="425.8" y2="429.1" stroke="#0e0e0e" stroke-width="1.5"/>
<line x1="354.8" y1="429.1" x2="354.8" y2="434.6" stroke="#0e0e0e" stroke-width="1.5"/>
<line x1="397.2" y1="429.1" x2="397.2" y2="434.6" stroke="#0e0e0e" stroke-width="1.5"/>
<line x1="354.8" y1="393.4" x2="354.8" y2="404.3" stroke="#262626" stroke-width="1.15"/>
<line x1="348.2" y1="393.4" x2="361.4" y2="393.4" stroke="#262626" stroke-width="1.15"/>
<line x1="348.2" y1="404.3" x2="361.4" y2="404.3" stroke="#262626" stroke-width="1.15"/>
<circle cx="354.8" cy="360.4" r="2.4" fill="#333333"/>
<circle cx="351.1" cy="384.9" r="2.4" fill="#333333"/>
<circle cx="359" cy="382.6" r="2.4" fill="#333333"/>
<circle cx="354.8" cy="397.1" r="2.4" fill="#333333"/>
<circle cx="351.1" cy="403.7" r="2.4" fill="#333333"/>
<circle cx="359" cy="403.1" r="2.4" fill="#333333"/>
<circle cx="351.1" cy="411.6" r="2.4" fill="#333333"/>
<circle cx="343" cy="415.6" r="2.4" fill="#333333"/>
<circle cx="359" cy="415.6" r="2.4" fill="#333333"/>
<circle cx="366.9" cy="415" r="2.4" fill="#333333"/>
<polyline points="354.8,350.6 354.8,295.4 397.2,295.4 397.2,303.9" fill="none" stroke="#0e0e0e" stroke-width="1.5"/>
<text x="375.3" y="288.38" font-size="13" text-anchor="middle" font-weight="normal" fill="#2b2b2b" style="stroke-width:0.1px">ns</text>
<text x="354.8" y="449.04" font-size="14" text-anchor="middle" font-weight="normal" fill="#0e0e0e">WT</text>
<text x="397.2" y="449.04" font-size="14" text-anchor="middle" font-weight="normal" fill="#0e0e0e">Mutant</text>
<text transform="translate(290 352.7) rotate(-90)" x="-0.07" y="5.04" font-size="14" text-anchor="middle" font-weight="normal" fill="#0e0e0e" letter-spacing="-0.15">Latency (Sec)</text>
</g>
<g>
<text x="507" y="271.63" font-size="13.7" text-anchor="middle" font-weight="bold" fill="#0e0e0e">F</text>
<text x="630" y="268.16" font-size="13.5" text-anchor="middle" font-weight="normal" fill="#0e0e0e">Female</text>
<rect x="578.5" y="393.1" width="19" height="39.6" fill="#c9dcf6" stroke="#0b0b1e" stroke-width="1.5"/>
<rect x="607.6" y="364.4" width="19" height="68.3" fill="#c9dcf6" stroke="#0b0b1e" stroke-width="1.5"/>
<line x1="612.35" y1="364.4" x2="612.35" y2="432.7" stroke="#0e0e0e" stroke-width="0.7"/>
<line x1="617.1" y1="364.4" x2="617.1" y2="432.7" stroke="#0e0e0e" stroke-width="0.7"/>
<line x1="621.85" y1="364.4" x2="621.85" y2="432.7" stroke="#0e0e0e" stroke-width="0.7"/>
<line x1="667" y1="392.1" x2="667" y2="400" stroke="#262626" stroke-width="1.15"/>
<line x1="661.9" y1="392.1" x2="672.1" y2="392.1" stroke="#262626" stroke-width="1.15"/>
<line x1="661.9" y1="400" x2="672.1" y2="400" stroke="#262626" stroke-width="1.15"/>
<circle cx="658.8" cy="384.5" r="2.4" fill="#333333"/>
<circle cx="663.4" cy="386.1" r="2.4" fill="#333333"/>
<circle cx="668.4" cy="387.1" r="2.4" fill="#333333"/>
<circle cx="674" cy="385.1" r="2.4" fill="#333333"/>
<circle cx="664" cy="396" r="2.4" fill="#333333"/>
<circle cx="670" cy="396" r="2.4" fill="#333333"/>
<circle cx="663.4" cy="408.5" r="2.4" fill="#333333"/>
<circle cx="669.4" cy="408.5" r="2.4" fill="#333333"/>
<rect x="657" y="396.1" width="19" height="36.6" fill="#08506e" stroke="#0b0b1e" stroke-width="1.5"/>
<clipPath id="cb7"><rect x="657.75" y="396.85" width="17.5" height="35.1"/></clipPath>
<g clip-path="url(#cb7)">
<line x1="667" y1="392.1" x2="667" y2="400" stroke="#063b51" stroke-width="1.15"/>
<line x1="661.9" y1="392.1" x2="672.1" y2="392.1" stroke="#063b51" stroke-width="1.15"/>
<line x1="661.9" y1="400" x2="672.1" y2="400" stroke="#063b51" stroke-width="1.15"/>
<circle cx="658.8" cy="384.5" r="2.4" fill="#36505a"/>
<circle cx="663.4" cy="386.1" r="2.4" fill="#36505a"/>
<circle cx="668.4" cy="387.1" r="2.4" fill="#36505a"/>
<circle cx="674" cy="385.1" r="2.4" fill="#36505a"/>
<circle cx="664" cy="396" r="2.4" fill="#36505a"/>
<circle cx="670" cy="396" r="2.4" fill="#36505a"/>
<circle cx="663.4" cy="408.5" r="2.4" fill="#36505a"/>
<circle cx="669.4" cy="408.5" r="2.4" fill="#36505a"/>
</g>
<line x1="695.9" y1="359" x2="695.9" y2="373.8" stroke="#262626" stroke-width="1.15"/>
<line x1="690.8" y1="359" x2="701" y2="359" stroke="#262626" stroke-width="1.15"/>
<line x1="690.8" y1="373.8" x2="701" y2="373.8" stroke="#262626" stroke-width="1.15"/>
<circle cx="695.9" cy="318.2" r="2.4" fill="#333333"/>
<circle cx="687.9" cy="352.7" r="2.4" fill="#333333"/>
<circle cx="687.9" cy="356.9" r="2.4" fill="#333333"/>
<circle cx="695.9" cy="355.3" r="2.4" fill="#333333"/>
<circle cx="695.9" cy="380" r="2.4" fill="#333333"/>
<circle cx="700" cy="372" r="2.4" fill="#333333"/>
<circle cx="695.9" cy="402" r="2.4" fill="#333333"/>
<rect x="686.5" y="367" width="18.7" height="65.7" fill="#08506e" stroke="#0b0b1e" stroke-width="1.5"/>
<line x1="691.17" y1="367" x2="691.17" y2="432.7" stroke="#3d7890" stroke-width="0.7"/>
<line x1="695.85" y1="367" x2="695.85" y2="432.7" stroke="#3d7890" stroke-width="0.7"/>
<line x1="700.53" y1="367" x2="700.53" y2="432.7" stroke="#3d7890" stroke-width="0.7"/>
<clipPath id="cb8"><rect x="687.25" y="367.75" width="17.2" height="64.2"/></clipPath>
<g clip-path="url(#cb8)">
<line x1="695.9" y1="359" x2="695.9" y2="373.8" stroke="#063b51" stroke-width="1.15"/>
<line x1="690.8" y1="359" x2="701" y2="359" stroke="#063b51" stroke-width="1.15"/>
<line x1="690.8" y1="373.8" x2="701" y2="373.8" stroke="#063b51" stroke-width="1.15"/>
<circle cx="695.9" cy="318.2" r="2.4" fill="#36505a"/>
<circle cx="687.9" cy="352.7" r="2.4" fill="#36505a"/>
<circle cx="687.9" cy="356.9" r="2.4" fill="#36505a"/>
<circle cx="695.9" cy="355.3" r="2.4" fill="#36505a"/>
<circle cx="695.9" cy="380" r="2.4" fill="#36505a"/>
<circle cx="700" cy="372" r="2.4" fill="#36505a"/>
<circle cx="695.9" cy="402" r="2.4" fill="#36505a"/>
</g>
<line x1="568" y1="284.55" x2="568" y2="433.45" stroke="#0e0e0e" stroke-width="1.5"/>
<line x1="561.8" y1="432.7" x2="568" y2="432.7" stroke="#0e0e0e" stroke-width="1.5"/>
<text x="560.4" y="439.04" font-size="14" text-anchor="end" font-weight="normal" fill="#0e0e0e">0</text>
<line x1="561.8" y1="403.22" x2="568" y2="403.22" stroke="#0e0e0e" stroke-width="1.5"/>
<text x="560.4" y="409.56" font-size="14" text-anchor="end" font-weight="normal" fill="#0e0e0e">20</text>
<line x1="561.8" y1="373.74" x2="568" y2="373.74" stroke="#0e0e0e" stroke-width="1.5"/>
<text x="560.4" y="380.08" font-size="14" text-anchor="end" font-weight="normal" fill="#0e0e0e">40</text>
<line x1="561.8" y1="344.26" x2="568" y2="344.26" stroke="#0e0e0e" stroke-width="1.5"/>
<text x="560.4" y="350.6" font-size="14" text-anchor="end" font-weight="normal" fill="#0e0e0e">60</text>
<line x1="561.8" y1="314.78" x2="568" y2="314.78" stroke="#0e0e0e" stroke-width="1.5"/>
<text x="560.4" y="321.12" font-size="14" text-anchor="end" font-weight="normal" fill="#0e0e0e">80</text>
<line x1="561.8" y1="285.3" x2="568" y2="285.3" stroke="#0e0e0e" stroke-width="1.5"/>
<text x="560.4" y="292.74" font-size="14" text-anchor="end" font-weight="normal" fill="#0e0e0e">100</text>
<line x1="561.7" y1="432.7" x2="715.6" y2="432.7" stroke="#0e0e0e" stroke-width="1.5"/>
<line x1="602.1" y1="432.7" x2="602.1" y2="438.2" stroke="#0e0e0e" stroke-width="1.5"/>
<line x1="680.5" y1="432.7" x2="680.5" y2="438.2" stroke="#0e0e0e" stroke-width="1.5"/>
<rect x="595.1" y="284.1" width="14.6" height="9.2" fill="#fff" stroke="#0e0e0e" stroke-width="1.45"/>
<rect x="595.1" y="303.5" width="14.6" height="9.2" fill="#fff" stroke="#0e0e0e" stroke-width="1.45"/>
<line x1="599.97" y1="303.5" x2="599.97" y2="312.7" stroke="#0e0e0e" stroke-width="0.9"/>
<line x1="604.83" y1="303.5" x2="604.83" y2="312.7" stroke="#0e0e0e" stroke-width="0.9"/>
<text x="618.5" y="294.03" font-size="13.7" text-anchor="start" font-weight="normal" fill="#0e0e0e">Old mouse</text>
<text x="618.5" y="312.73" font-size="13.7" text-anchor="start" font-weight="normal" fill="#0e0e0e">New Mouse</text>
<line x1="587.7" y1="388.5" x2="587.7" y2="397.5" stroke="#262626" stroke-width="1.15"/>
<line x1="582.2" y1="388.5" x2="593.2" y2="388.5" stroke="#262626" stroke-width="1.15"/>
<line x1="582.2" y1="397.5" x2="593.2" y2="397.5" stroke="#262626" stroke-width="1.15"/>
<line x1="617.2" y1="357" x2="617.2" y2="371.4" stroke="#262626" stroke-width="1.15"/>
<line x1="612.1" y1="357" x2="622.3" y2="357" stroke="#262626" stroke-width="1.15"/>
<line x1="612.1" y1="371.4" x2="622.3" y2="371.4" stroke="#262626" stroke-width="1.15"/>
<circle cx="587.7" cy="367.8" r="2.4" fill="#333333"/>
<circle cx="587.7" cy="381.8" r="2.4" fill="#333333"/>
<circle cx="580.1" cy="384.9" r="2.4" fill="#333333"/>
<circle cx="595.1" cy="387.5" r="2.4" fill="#333333"/>
<circle cx="581.1" cy="396.5" r="2.4" fill="#333333"/>
<circle cx="587.7" cy="395.5" r="2.4" fill="#333333"/>
<circle cx="595.1" cy="396.9" r="2.4" fill="#333333"/>
<circle cx="587.7" cy="406.1" r="2.4" fill="#333333"/>
<circle cx="587.7" cy="417.6" r="2.4" fill="#333333"/>
<circle cx="617.2" cy="328.6" r="2.4" fill="#333333"/>
<circle cx="617.2" cy="338.3" r="2.4" fill="#333333"/>
<circle cx="621.8" cy="350.3" r="2.4" fill="#333333"/>
<circle cx="613.2" cy="355.3" r="2.4" fill="#333333"/>
<circle cx="621.8" cy="358" r="2.4" fill="#333333"/>
<circle cx="617.2" cy="368.4" r="2.4" fill="#333333"/>
<circle cx="617.2" cy="379.4" r="2.4" fill="#333333"/>
<circle cx="617.2" cy="391.1" r="2.4" fill="#333333"/>
<circle cx="617.2" cy="407.6" r="2.4" fill="#333333"/>
<polyline points="587.7,379.8 587.7,339.2 616.9,339.2 616.9,347.4" fill="none" stroke="#0e0e0e" stroke-width="1.5"/>
<polyline points="666,382.4 666,339.7 695.9,339.7 695.9,349.3" fill="none" stroke="#0e0e0e" stroke-width="1.5"/>
<text x="603.17" y="337.3" font-size="13.9" text-anchor="middle" font-weight="normal" fill="#0e0e0e" font-family="DejaVu Sans, Liberation Sans, sans-serif" letter-spacing="2.35" style="stroke-width:0.5px">**</text>
<text x="682.47" y="337.3" font-size="13.9" text-anchor="middle" font-weight="normal" fill="#0e0e0e" font-family="DejaVu Sans, Liberation Sans, sans-serif" letter-spacing="2.35" style="stroke-width:0.5px">**</text>
<text x="602" y="455.04" font-size="14" text-anchor="middle" font-weight="normal" fill="#0e0e0e">WT</text>
<text x="681" y="455.04" font-size="14" text-anchor="middle" font-weight="normal" fill="#0e0e0e">Mutant</text>
<text transform="translate(521 356) rotate(-90)" x="-0.12" y="4.9" font-size="13.6" text-anchor="middle" font-weight="normal" fill="#0e0e0e" letter-spacing="-0.25">Time (s)</text>
</g>
<g>
<text x="7.3" y="496.63" font-size="13.7" text-anchor="middle" font-weight="bold" fill="#0e0e0e">G</text>
<text x="107.3" y="489.68" font-size="13" text-anchor="middle" font-weight="normal" fill="#0e0e0e">Male</text>
<rect x="56.5" y="614.9" width="17" height="38.7" fill="#bec0fa" stroke="#0b0b1e" stroke-width="1.5"/>
<rect x="83.6" y="586.8" width="17" height="66.8" fill="#bec0fa" stroke="#0b0b1e" stroke-width="1.5"/>
<line x1="86.43" y1="586.8" x2="86.43" y2="653.6" stroke="#23235e" stroke-width="0.8"/>
<line x1="89.27" y1="586.8" x2="89.27" y2="653.6" stroke="#23235e" stroke-width="0.8"/>
<line x1="92.1" y1="586.8" x2="92.1" y2="653.6" stroke="#23235e" stroke-width="0.8"/>
<line x1="94.93" y1="586.8" x2="94.93" y2="653.6" stroke="#23235e" stroke-width="0.8"/>
<line x1="97.77" y1="586.8" x2="97.77" y2="653.6" stroke="#23235e" stroke-width="0.8"/>
<line x1="137" y1="600.8" x2="137" y2="611" stroke="#262626" stroke-width="1.15"/>
<line x1="131.5" y1="600.8" x2="142.5" y2="600.8" stroke="#262626" stroke-width="1.15"/>
<line x1="131.5" y1="611" x2="142.5" y2="611" stroke="#262626" stroke-width="1.15"/>
<circle cx="137" cy="593.4" r="2" fill="#17173f"/>
<circle cx="133.4" cy="604.4" r="2" fill="#17173f"/>
<circle cx="140.4" cy="605.4" r="2" fill="#17173f"/>
<circle cx="137" cy="609.5" r="2" fill="#17173f"/>
<circle cx="131.4" cy="615.5" r="2" fill="#17173f"/>
<circle cx="142.4" cy="615.5" r="2" fill="#17173f"/>
<circle cx="137" cy="620.5" r="2" fill="#17173f"/>
<circle cx="137" cy="626.5" r="2" fill="#17173f"/>
<rect x="128.4" y="606.4" width="17" height="47.2" fill="#04048a" stroke="#0b0b1e" stroke-width="1.5"/>
<clipPath id="cb9"><rect x="129.15" y="607.15" width="15.5" height="45.7"/></clipPath>
<g clip-path="url(#cb9)">
<line x1="137" y1="600.8" x2="137" y2="611" stroke="#050560" stroke-width="1.15"/>
<line x1="131.5" y1="600.8" x2="142.5" y2="600.8" stroke="#050560" stroke-width="1.15"/>
<line x1="131.5" y1="611" x2="142.5" y2="611" stroke="#050560" stroke-width="1.15"/>
<circle cx="137" cy="593.4" r="2" fill="#48486a"/>
<circle cx="133.4" cy="604.4" r="2" fill="#48486a"/>
<circle cx="140.4" cy="605.4" r="2" fill="#48486a"/>
<circle cx="137" cy="609.5" r="2" fill="#48486a"/>
<circle cx="131.4" cy="615.5" r="2" fill="#48486a"/>
<circle cx="142.4" cy="615.5" r="2" fill="#48486a"/>
<circle cx="137" cy="620.5" r="2" fill="#48486a"/>
<circle cx="137" cy="626.5" r="2" fill="#48486a"/>
</g>
<line x1="163.5" y1="573.9" x2="163.5" y2="585" stroke="#262626" stroke-width="1.15"/>
<line x1="158" y1="573.9" x2="169" y2="573.9" stroke="#262626" stroke-width="1.15"/>
<line x1="158" y1="585" x2="169" y2="585" stroke="#262626" stroke-width="1.15"/>
<circle cx="163.5" cy="563.3" r="2" fill="#17173f"/>
<circle cx="166.1" cy="566.9" r="2" fill="#17173f"/>
<circle cx="161.5" cy="569.7" r="2" fill="#17173f"/>
<circle cx="158.5" cy="589.4" r="2" fill="#17173f"/>
<circle cx="162.5" cy="588.4" r="2" fill="#17173f"/>
<circle cx="166.5" cy="589.4" r="2" fill="#17173f"/>
<circle cx="170.5" cy="589.4" r="2" fill="#17173f"/>
<rect x="155.5" y="579.3" width="17" height="74.3" fill="#04048a" stroke="#0b0b1e" stroke-width="1.5"/>
<line x1="161.17" y1="579.3" x2="161.17" y2="653.6" stroke="#4747ad" stroke-width="0.7"/>
<line x1="166.83" y1="579.3" x2="166.83" y2="653.6" stroke="#4747ad" stroke-width="0.7"/>
<line x1="155.5" y1="647.93" x2="172.5" y2="647.93" stroke="#4747ad" stroke-width="0.7"/>
<line x1="155.5" y1="642.27" x2="172.5" y2="642.27" stroke="#4747ad" stroke-width="0.7"/>
<line x1="155.5" y1="636.6" x2="172.5" y2="636.6" stroke="#4747ad" stroke-width="0.7"/>
<line x1="155.5" y1="630.93" x2="172.5" y2="630.93" stroke="#4747ad" stroke-width="0.7"/>
<line x1="155.5" y1="625.27" x2="172.5" y2="625.27" stroke="#4747ad" stroke-width="0.7"/>
<line x1="155.5" y1="619.6" x2="172.5" y2="619.6" stroke="#4747ad" stroke-width="0.7"/>
<line x1="155.5" y1="613.93" x2="172.5" y2="613.93" stroke="#4747ad" stroke-width="0.7"/>
<line x1="155.5" y1="608.27" x2="172.5" y2="608.27" stroke="#4747ad" stroke-width="0.7"/>
<line x1="155.5" y1="602.6" x2="172.5" y2="602.6" stroke="#4747ad" stroke-width="0.7"/>
<line x1="155.5" y1="596.93" x2="172.5" y2="596.93" stroke="#4747ad" stroke-width="0.7"/>
<line x1="155.5" y1="591.27" x2="172.5" y2="591.27" stroke="#4747ad" stroke-width="0.7"/>
<line x1="155.5" y1="585.6" x2="172.5" y2="585.6" stroke="#4747ad" stroke-width="0.7"/>
<line x1="155.5" y1="579.93" x2="172.5" y2="579.93" stroke="#4747ad" stroke-width="0.7"/>
<clipPath id="cb10"><rect x="156.25" y="580.05" width="15.5" height="72.8"/></clipPath>
<g clip-path="url(#cb10)">
<line x1="163.5" y1="573.9" x2="163.5" y2="585" stroke="#050560" stroke-width="1.15"/>
<line x1="158" y1="573.9" x2="169" y2="573.9" stroke="#050560" stroke-width="1.15"/>
<line x1="158" y1="585" x2="169" y2="585" stroke="#050560" stroke-width="1.15"/>
<circle cx="163.5" cy="563.3" r="2" fill="#48486a"/>
<circle cx="166.1" cy="566.9" r="2" fill="#48486a"/>
<circle cx="161.5" cy="569.7" r="2" fill="#48486a"/>
<circle cx="158.5" cy="589.4" r="2" fill="#48486a"/>
<circle cx="162.5" cy="588.4" r="2" fill="#48486a"/>
<circle cx="166.5" cy="589.4" r="2" fill="#48486a"/>
<circle cx="170.5" cy="589.4" r="2" fill="#48486a"/>
</g>
<line x1="46.4" y1="519.35" x2="46.4" y2="654.35" stroke="#0e0e0e" stroke-width="1.5"/>
<line x1="40.2" y1="653.6" x2="46.4" y2="653.6" stroke="#0e0e0e" stroke-width="1.5"/>
<text x="38.8" y="658.28" font-size="13" text-anchor="end" font-weight="normal" fill="#0e0e0e">0</text>
<line x1="40.2" y1="609.1" x2="46.4" y2="609.1" stroke="#0e0e0e" stroke-width="1.5"/>
<text x="38.8" y="613.78" font-size="13" text-anchor="end" font-weight="normal" fill="#0e0e0e">10</text>
<line x1="40.2" y1="564.6" x2="46.4" y2="564.6" stroke="#0e0e0e" stroke-width="1.5"/>
<text x="38.8" y="569.28" font-size="13" text-anchor="end" font-weight="normal" fill="#0e0e0e">20</text>
<line x1="40.2" y1="520.1" x2="46.4" y2="520.1" stroke="#0e0e0e" stroke-width="1.5"/>
<text x="38.8" y="524.78" font-size="13" text-anchor="end" font-weight="normal" fill="#0e0e0e">30</text>
<line x1="41" y1="653.6" x2="182" y2="653.6" stroke="#0e0e0e" stroke-width="1.5"/>
<line x1="78.8" y1="653.6" x2="78.8" y2="659.1" stroke="#0e0e0e" stroke-width="1.5"/>
<line x1="150" y1="653.6" x2="150" y2="659.1" stroke="#0e0e0e" stroke-width="1.5"/>
<rect x="94.2" y="503" width="14.6" height="8.1" fill="#fff" stroke="#0e0e0e" stroke-width="1.45"/>
<rect x="94.2" y="524.1" width="14.6" height="8" fill="#fff" stroke="#0e0e0e" stroke-width="1.45"/>
<line x1="96.63" y1="524.1" x2="96.63" y2="532.1" stroke="#0e0e0e" stroke-width="1.15"/>
<line x1="99.07" y1="524.1" x2="99.07" y2="532.1" stroke="#0e0e0e" stroke-width="1.15"/>
<line x1="101.5" y1="524.1" x2="101.5" y2="532.1" stroke="#0e0e0e" stroke-width="1.15"/>
<line x1="103.93" y1="524.1" x2="103.93" y2="532.1" stroke="#0e0e0e" stroke-width="1.15"/>
<line x1="106.37" y1="524.1" x2="106.37" y2="532.1" stroke="#0e0e0e" stroke-width="1.15"/>
<text x="116.5" y="510.89" font-size="10.8" text-anchor="start" font-weight="normal" fill="#0e0e0e">Familiar Object</text>
<text x="116.5" y="531.99" font-size="10.8" text-anchor="start" font-weight="normal" fill="#0e0e0e">New Object</text>
<line x1="65.1" y1="611" x2="65.1" y2="617.5" stroke="#262626" stroke-width="1.15"/>
<line x1="59.1" y1="611" x2="71.1" y2="611" stroke="#262626" stroke-width="1.15"/>
<line x1="59.1" y1="617.5" x2="71.1" y2="617.5" stroke="#262626" stroke-width="1.15"/>
<line x1="91.8" y1="580.3" x2="91.8" y2="593.4" stroke="#262626" stroke-width="1.15"/>
<line x1="86.5" y1="580.3" x2="97.1" y2="580.3" stroke="#262626" stroke-width="1.15"/>
<line x1="86.5" y1="593.4" x2="97.1" y2="593.4" stroke="#262626" stroke-width="1.15"/>
<circle cx="65.1" cy="588.4" r="1.9" fill="#17173f"/>
<circle cx="65.1" cy="608.5" r="2" fill="#17173f"/>
<circle cx="58.1" cy="613.5" r="2" fill="#17173f"/>
<circle cx="72.1" cy="613.5" r="2" fill="#17173f"/>
<circle cx="61.7" cy="612.5" r="2" fill="#17173f"/>
<circle cx="68.1" cy="613.5" r="2" fill="#17173f"/>
<circle cx="61.1" cy="621.9" r="2" fill="#17173f"/>
<circle cx="68.7" cy="621.9" r="2" fill="#17173f"/>
<circle cx="61.1" cy="627.1" r="2" fill="#17173f"/>
<circle cx="68.7" cy="627.1" r="2" fill="#17173f"/>
<circle cx="88.8" cy="570.3" r="2" fill="#17173f"/>
<circle cx="95.2" cy="568.9" r="2" fill="#17173f"/>
<circle cx="85.2" cy="587.4" r="2" fill="#17173f"/>
<circle cx="91.8" cy="587" r="2" fill="#17173f"/>
<circle cx="98.6" cy="587.4" r="2" fill="#17173f"/>
<circle cx="85.2" cy="600.4" r="2" fill="#17173f"/>
<circle cx="98.6" cy="602.4" r="2" fill="#17173f"/>
<circle cx="91.8" cy="604.4" r="2" fill="#17173f"/>
<circle cx="91.8" cy="615.1" r="2" fill="#17173f"/>
<circle cx="137" cy="568.3" r="1.9" fill="#17173f"/>
<circle cx="163.5" cy="555.2" r="1.8" fill="#17173f"/>
<circle cx="92.7" cy="546.3" r="1.3" fill="#17173f"/>
<polyline points="65,603.8 65,558.1 91.9,558.1 91.9,572.4" fill="none" stroke="#0e0e0e" stroke-width="1.75"/>
<polyline points="137,593.4 137,558.3 163.5,558.3 163.5,563.3" fill="none" stroke="#0e0e0e" stroke-width="1.75"/>
<text x="78.25" y="555.22" font-size="14.8" text-anchor="middle" font-weight="bold" fill="#0e0e0e" font-family="DejaVu Sans, Liberation Sans, sans-serif" letter-spacing="0.1" style="stroke-width:0.6px">***</text>
<text x="150.05" y="555.22" font-size="14.8" text-anchor="middle" font-weight="bold" fill="#0e0e0e" font-family="DejaVu Sans, Liberation Sans, sans-serif" letter-spacing="0.1" style="stroke-width:0.6px">**</text>
<text x="78.8" y="673.98" font-size="13" text-anchor="middle" font-weight="normal" fill="#0e0e0e">WT</text>
<text x="150" y="673.98" font-size="13" text-anchor="middle" font-weight="normal" fill="#0e0e0e">Mutant</text>
<text transform="translate(12.9 586) rotate(-90)" x="0" y="4.68" font-size="13" text-anchor="middle" font-weight="normal" fill="#0e0e0e">Time(Sec)</text>
</g>
<g>
<text x="234" y="495.43" font-size="13.7" text-anchor="middle" font-weight="bold" fill="#0e0e0e">H</text>
<rect x="282.9" y="571.9" width="23.8" height="41.1" fill="#bec0fa" stroke="#0b0b1e" stroke-width="2"/>
<line x1="332.7" y1="565.6" x2="332.7" y2="580" stroke="#111" stroke-width="1.15"/>
<line x1="326.3" y1="565.6" x2="339.1" y2="565.6" stroke="#111" stroke-width="1.15"/>
<line x1="326.3" y1="580" x2="339.1" y2="580" stroke="#111" stroke-width="1.15"/>
<circle cx="324.6" cy="552.7" r="1.9" fill="#0d0d0d"/>
<circle cx="332.5" cy="550.7" r="1.9" fill="#0d0d0d"/>
<circle cx="340.6" cy="548.2" r="1.9" fill="#0d0d0d"/>
<circle cx="324.6" cy="566" r="1.9" fill="#0d0d0d"/>
<circle cx="340.6" cy="568.7" r="1.9" fill="#0d0d0d"/>
<circle cx="332.7" cy="571.5" r="1.9" fill="#0d0d0d"/>
<circle cx="328" cy="609.4" r="1.9" fill="#0d0d0d"/>
<circle cx="337.4" cy="608.9" r="1.9" fill="#0d0d0d"/>
<circle cx="332.7" cy="576" r="1.9" fill="#0d0d0d"/>
<rect x="320.9" y="573.1" width="23.7" height="39.9" fill="#04048a" stroke="#0b0b1e" stroke-width="2"/>
<clipPath id="cb11"><rect x="321.9" y="574.1" width="21.7" height="37.9"/></clipPath>
<g clip-path="url(#cb11)">
<line x1="332.7" y1="565.6" x2="332.7" y2="580" stroke="#050560" stroke-width="1.15"/>
<line x1="326.3" y1="565.6" x2="339.1" y2="565.6" stroke="#050560" stroke-width="1.15"/>
<line x1="326.3" y1="580" x2="339.1" y2="580" stroke="#050560" stroke-width="1.15"/>
<circle cx="324.6" cy="552.7" r="1.9" fill="#08084c"/>
<circle cx="332.5" cy="550.7" r="1.9" fill="#08084c"/>
<circle cx="340.6" cy="548.2" r="1.9" fill="#08084c"/>
<circle cx="324.6" cy="566" r="1.9" fill="#08084c"/>
<circle cx="340.6" cy="568.7" r="1.9" fill="#08084c"/>
<circle cx="332.7" cy="571.5" r="1.9" fill="#08084c"/>
<circle cx="328" cy="609.4" r="1.9" fill="#08084c"/>
<circle cx="337.4" cy="608.9" r="1.9" fill="#08084c"/>
<circle cx="332.7" cy="576" r="1.9" fill="#08084c"/>
</g>
<line x1="269.8" y1="513.25" x2="269.8" y2="646.75" stroke="#0e0e0e" stroke-width="1.5"/>
<line x1="264.2" y1="646" x2="269.8" y2="646" stroke="#0e0e0e" stroke-width="1.5"/>
<text x="262.7" y="649.35" font-size="9.3" text-anchor="end" font-weight="bold" fill="#0e0e0e" letter-spacing="0.5">-20</text>
<line x1="264.2" y1="613" x2="269.8" y2="613" stroke="#0e0e0e" stroke-width="1.5"/>
<text x="262.7" y="616.35" font-size="9.3" text-anchor="end" font-weight="bold" fill="#0e0e0e" letter-spacing="0.5">0</text>
<line x1="264.2" y1="580" x2="269.8" y2="580" stroke="#0e0e0e" stroke-width="1.5"/>
<text x="262.7" y="583.35" font-size="9.3" text-anchor="end" font-weight="bold" fill="#0e0e0e" letter-spacing="0.5">20</text>
<line x1="264.2" y1="547" x2="269.8" y2="547" stroke="#0e0e0e" stroke-width="1.5"/>
<text x="262.7" y="550.35" font-size="9.3" text-anchor="end" font-weight="bold" fill="#0e0e0e" letter-spacing="0.5">40</text>
<line x1="264.2" y1="514" x2="269.8" y2="514" stroke="#0e0e0e" stroke-width="1.5"/>
<text x="262.7" y="517.35" font-size="9.3" text-anchor="end" font-weight="bold" fill="#0e0e0e" letter-spacing="0.5">60</text>
<line x1="264.2" y1="613" x2="358.3" y2="613" stroke="#0e0e0e" stroke-width="1.3"/>
<line x1="264.2" y1="646" x2="358.3" y2="646" stroke="#0e0e0e" stroke-width="1.3"/>
<line x1="295" y1="646" x2="295" y2="650.7" stroke="#0e0e0e" stroke-width="1.3"/>
<line x1="332.8" y1="646" x2="332.8" y2="650.7" stroke="#0e0e0e" stroke-width="1.3"/>
<line x1="294.8" y1="562.3" x2="294.8" y2="579.4" stroke="#111" stroke-width="1.15"/>
<line x1="288.6" y1="562.3" x2="301" y2="562.3" stroke="#111" stroke-width="1.15"/>
<line x1="288.6" y1="579.4" x2="301" y2="579.4" stroke="#111" stroke-width="1.15"/>
<circle cx="291.2" cy="538.2" r="1.9" fill="#0d0d0d"/>
<circle cx="298.9" cy="537.7" r="1.9" fill="#0d0d0d"/>
<circle cx="294.8" cy="557.3" r="1.9" fill="#0d0d0d"/>
<circle cx="298.8" cy="563.8" r="1.9" fill="#0d0d0d"/>
<circle cx="290.9" cy="567" r="1.9" fill="#0d0d0d"/>
<circle cx="290.9" cy="573.7" r="1.9" fill="#0d0d0d"/>
<circle cx="298.8" cy="576.5" r="1.9" fill="#0d0d0d"/>
<circle cx="290.9" cy="580.1" r="1.9" fill="#0d0d0d"/>
<circle cx="298.8" cy="582.1" r="1.9" fill="#0d0d0d"/>
<circle cx="295" cy="632.8" r="1.9" fill="#0d0d0d"/>
<polyline points="294.6,529.8 294.6,522 332.8,522 332.8,540.1" fill="none" stroke="#0e0e0e" stroke-width="1.5"/>
<text x="313.4" y="514.71" font-size="10.8" text-anchor="middle" font-weight="normal" fill="#2b2b2b" style="stroke-width:0.1px">ns</text>
<text x="295.25" y="662.15" font-size="9.3" text-anchor="middle" font-weight="bold" fill="#0e0e0e" letter-spacing="1.3">WT</text>
<text x="332.5" y="662.15" font-size="9.3" text-anchor="middle" font-weight="bold" fill="#0e0e0e" letter-spacing="0.4">Mutant</text>
<text transform="translate(238.3 580) rotate(-90)" x="0" y="3.78" font-size="10.5" text-anchor="middle" font-weight="bold" fill="#0e0e0e">D.I.</text>
</g>
<g>
<text x="392.7" y="496.63" font-size="13.7" text-anchor="middle" font-weight="bold" fill="#0e0e0e">K</text>
<text x="510.7" y="504.32" font-size="12" text-anchor="middle" font-weight="normal" fill="#0e0e0e">Male</text>
<rect x="532.4" y="607.3" width="21.6" height="40" fill="#bec0fa" stroke="#0b0b1e" stroke-width="1.5"/>
<line x1="577" y1="635.8" x2="577" y2="643" stroke="#262626" stroke-width="1.15"/>
<line x1="573.5" y1="635.8" x2="580.5" y2="635.8" stroke="#262626" stroke-width="1.15"/>
<line x1="573.5" y1="643" x2="580.5" y2="643" stroke="#262626" stroke-width="1.15"/>
<circle cx="573.7" cy="624.7" r="2.4" fill="#333333"/>
<circle cx="579.8" cy="624.7" r="2.4" fill="#333333"/>
<circle cx="567.5" cy="635.9" r="2.4" fill="#333333"/>
<circle cx="579.8" cy="635.9" r="2.4" fill="#333333"/>
<circle cx="573.7" cy="639.7" r="2.4" fill="#333333"/>
<circle cx="567.5" cy="647.5" r="2.4" fill="#333333"/>
<circle cx="572" cy="647.5" r="2.4" fill="#333333"/>
<circle cx="576.6" cy="647.5" r="2.4" fill="#333333"/>
<circle cx="581.2" cy="647.5" r="2.4" fill="#333333"/>
<circle cx="585.8" cy="647.5" r="2.4" fill="#333333"/>
<rect x="565.9" y="639.4" width="21.9" height="7.9" fill="#04048a" stroke="#0b0b1e" stroke-width="1.5"/>
<clipPath id="cb12"><rect x="566.65" y="640.15" width="20.4" height="6.4"/></clipPath>
<g clip-path="url(#cb12)">
<line x1="577" y1="635.8" x2="577" y2="643" stroke="#050560" stroke-width="1.15"/>
<line x1="573.5" y1="635.8" x2="580.5" y2="635.8" stroke="#050560" stroke-width="1.15"/>
<line x1="573.5" y1="643" x2="580.5" y2="643" stroke="#050560" stroke-width="1.15"/>
<circle cx="573.7" cy="624.7" r="2.4" fill="#48486a"/>
<circle cx="579.8" cy="624.7" r="2.4" fill="#48486a"/>
<circle cx="567.5" cy="635.9" r="2.4" fill="#48486a"/>
<circle cx="579.8" cy="635.9" r="2.4" fill="#48486a"/>
<circle cx="573.7" cy="639.7" r="2.4" fill="#48486a"/>
<circle cx="567.5" cy="647.5" r="2.4" fill="#48486a"/>
<circle cx="572" cy="647.5" r="2.4" fill="#48486a"/>
<circle cx="576.6" cy="647.5" r="2.4" fill="#48486a"/>
<circle cx="581.2" cy="647.5" r="2.4" fill="#48486a"/>
<circle cx="585.8" cy="647.5" r="2.4" fill="#48486a"/>
</g>
<line x1="431.8" y1="512.05" x2="431.8" y2="648.05" stroke="#0e0e0e" stroke-width="1.5"/>
<line x1="426.2" y1="647.3" x2="431.8" y2="647.3" stroke="#0e0e0e" stroke-width="1.5"/>
<text x="424.5" y="651.77" font-size="10.2" text-anchor="end" font-weight="normal" fill="#0e0e0e">0</text>
<line x1="426.2" y1="620.4" x2="431.8" y2="620.4" stroke="#0e0e0e" stroke-width="1.5"/>
<text x="424.5" y="624.87" font-size="10.2" text-anchor="end" font-weight="normal" fill="#0e0e0e">20</text>
<line x1="426.2" y1="593.5" x2="431.8" y2="593.5" stroke="#0e0e0e" stroke-width="1.5"/>
<text x="424.5" y="597.97" font-size="10.2" text-anchor="end" font-weight="normal" fill="#0e0e0e">40</text>
<line x1="426.2" y1="566.6" x2="431.8" y2="566.6" stroke="#0e0e0e" stroke-width="1.5"/>
<text x="424.5" y="571.07" font-size="10.2" text-anchor="end" font-weight="normal" fill="#0e0e0e">60</text>
<line x1="426.2" y1="539.7" x2="431.8" y2="539.7" stroke="#0e0e0e" stroke-width="1.5"/>
<text x="424.5" y="544.17" font-size="10.2" text-anchor="end" font-weight="normal" fill="#0e0e0e">80</text>
<line x1="426.2" y1="512.8" x2="431.8" y2="512.8" stroke="#0e0e0e" stroke-width="1.5"/>
<text x="424.5" y="517.27" font-size="10.2" text-anchor="end" font-weight="normal" fill="#0e0e0e">100</text>
<line x1="426.2" y1="647.3" x2="599.8" y2="647.3" stroke="#0e0e0e" stroke-width="1.5"/>
<line x1="470.4" y1="647.3" x2="470.4" y2="652.1" stroke="#0e0e0e" stroke-width="1.5"/>
<line x1="559.7" y1="647.3" x2="559.7" y2="652.1" stroke="#0e0e0e" stroke-width="1.5"/>
<circle cx="437.1" cy="518.8" r="2.3" fill="#333333"/>
<circle cx="437.1" cy="533.9" r="2.3" fill="#333333"/>
<text x="451.7" y="523.55" font-size="13.2" text-anchor="start" font-weight="normal" fill="#0e0e0e">WT</text>
<text x="451.7" y="538.65" font-size="13.2" text-anchor="start" font-weight="normal" fill="#0e0e0e">Mutant</text>
<polyline points="454,633.2 454,579.5 486.9,579.5 486.9,634.1" fill="none" stroke="#0e0e0e" stroke-width="1.5"/>
<text x="470" y="572.69" font-size="11.5" text-anchor="middle" font-weight="normal" fill="#2b2b2b" style="stroke-width:0.1px">ns</text>
<circle cx="444.7" cy="641.2" r="2.1" fill="#333333"/>
<circle cx="446.4" cy="644" r="2.1" fill="#333333"/>
<circle cx="452.4" cy="643.9" r="2.1" fill="#333333"/>
<circle cx="450.2" cy="645.6" r="2.1" fill="#333333"/>
<circle cx="444.9" cy="646.9" r="2.1" fill="#333333"/>
<circle cx="447.55" cy="646.9" r="2.1" fill="#333333"/>
<circle cx="450.2" cy="646.9" r="2.1" fill="#333333"/>
<circle cx="452.85" cy="646.9" r="2.1" fill="#333333"/>
<circle cx="455.5" cy="646.9" r="2.1" fill="#333333"/>
<circle cx="458.15" cy="646.9" r="2.1" fill="#333333"/>
<circle cx="460.8" cy="646.9" r="2.1" fill="#333333"/>
<circle cx="463.45" cy="646.9" r="2.1" fill="#333333"/>
<circle cx="478" cy="642.3" r="2.1" fill="#333333"/>
<circle cx="479.9" cy="645" r="2.1" fill="#333333"/>
<circle cx="478.2" cy="646.9" r="2.1" fill="#333333"/>
<circle cx="480.8" cy="646.9" r="2.1" fill="#333333"/>
<circle cx="483.4" cy="646.9" r="2.1" fill="#333333"/>
<circle cx="486" cy="646.9" r="2.1" fill="#333333"/>
<circle cx="488.6" cy="646.9" r="2.1" fill="#333333"/>
<circle cx="491.2" cy="646.9" r="2.1" fill="#333333"/>
<circle cx="493.8" cy="646.9" r="2.1" fill="#333333"/>
<circle cx="496.4" cy="646.9" r="2.1" fill="#333333"/>
<line x1="543.3" y1="594.2" x2="543.3" y2="619.6" stroke="#262626" stroke-width="1.15"/>
<line x1="537.95" y1="594.2" x2="548.65" y2="594.2" stroke="#262626" stroke-width="1.15"/>
<line x1="537.95" y1="619.6" x2="548.65" y2="619.6" stroke="#262626" stroke-width="1.15"/>
<circle cx="543.3" cy="523.9" r="2.4" fill="#333333"/>
<circle cx="543.3" cy="580" r="2.4" fill="#333333"/>
<circle cx="543.3" cy="591.3" r="2.4" fill="#333333"/>
<circle cx="543.3" cy="602.6" r="2.4" fill="#333333"/>
<circle cx="539.3" cy="624.7" r="2.4" fill="#333333"/>
<circle cx="547.4" cy="624.7" r="2.4" fill="#333333"/>
<circle cx="539.3" cy="632.4" r="2.4" fill="#333333"/>
<circle cx="547.4" cy="636" r="2.4" fill="#333333"/>
<circle cx="543.3" cy="647.3" r="2.4" fill="#333333"/>
<polyline points="543.3,548.6 543.3,540.9 577,540.9 577,617.7" fill="none" stroke="#0e0e0e" stroke-width="1.5"/>
<text x="561.3" y="538.74" font-size="13.6" text-anchor="middle" font-weight="normal" fill="#0e0e0e" font-family="DejaVu Sans, Liberation Sans, sans-serif" letter-spacing="2.2" style="stroke-width:0.5px">**</text>
<text x="468.5" y="668.18" font-size="13" text-anchor="middle" font-weight="normal" fill="#0e0e0e">Pre-shock</text>
<text x="559.7" y="668.18" font-size="13" text-anchor="middle" font-weight="normal" fill="#0e0e0e">Post-shock</text>
<text transform="translate(393.9 578.2) rotate(-90)" x="0" y="4.5" font-size="12.5" text-anchor="middle" font-weight="normal" fill="#0e0e0e">% Freezing</text>
</g>
<g>
<text x="626" y="496.38" font-size="13" text-anchor="middle" font-weight="bold" fill="#0e0e0e">L</text>
<text x="714.3" y="499.5" font-size="12.5" text-anchor="middle" font-weight="normal" fill="#0e0e0e">Male</text>
<rect x="686.1" y="586" width="24.8" height="67.1" fill="#bec0fa" stroke="#0b0b1e" stroke-width="1.5"/>
<line x1="736.9" y1="571.6" x2="736.9" y2="588" stroke="#262626" stroke-width="1.15"/>
<line x1="730.7" y1="571.6" x2="743.1" y2="571.6" stroke="#262626" stroke-width="1.15"/>
<line x1="730.7" y1="588" x2="743.1" y2="588" stroke="#262626" stroke-width="1.15"/>
<circle cx="736.9" cy="541.4" r="2.3" fill="#333333"/>
<circle cx="736.9" cy="552.7" r="2.3" fill="#333333"/>
<circle cx="732.8" cy="559.7" r="2.3" fill="#333333"/>
<circle cx="740.9" cy="561.2" r="2.3" fill="#333333"/>
<circle cx="736.9" cy="565.9" r="2.3" fill="#333333"/>
<circle cx="736.9" cy="572.5" r="2.3" fill="#333333"/>
<circle cx="736.9" cy="586.1" r="2.3" fill="#333333"/>
<circle cx="732.8" cy="592.7" r="2.3" fill="#333333"/>
<circle cx="740.9" cy="590.4" r="2.3" fill="#333333"/>
<circle cx="736.9" cy="624.7" r="2.3" fill="#333333"/>
<circle cx="736.9" cy="633.7" r="2.3" fill="#333333"/>
<rect x="724.7" y="580.4" width="24.5" height="72.7" fill="#04048a" stroke="#0b0b1e" stroke-width="1.5"/>
<clipPath id="cb13"><rect x="725.45" y="581.15" width="23" height="71.2"/></clipPath>
<g clip-path="url(#cb13)">
<line x1="736.9" y1="571.6" x2="736.9" y2="588" stroke="#050560" stroke-width="1.15"/>
<line x1="730.7" y1="571.6" x2="743.1" y2="571.6" stroke="#050560" stroke-width="1.15"/>
<line x1="730.7" y1="588" x2="743.1" y2="588" stroke="#050560" stroke-width="1.15"/>
<circle cx="736.9" cy="541.4" r="2.3" fill="#48486a"/>
<circle cx="736.9" cy="552.7" r="2.3" fill="#48486a"/>
<circle cx="732.8" cy="559.7" r="2.3" fill="#48486a"/>
<circle cx="740.9" cy="561.2" r="2.3" fill="#48486a"/>
<circle cx="736.9" cy="565.9" r="2.3" fill="#48486a"/>
<circle cx="736.9" cy="572.5" r="2.3" fill="#48486a"/>
<circle cx="736.9" cy="586.1" r="2.3" fill="#48486a"/>
<circle cx="732.8" cy="592.7" r="2.3" fill="#48486a"/>
<circle cx="740.9" cy="590.4" r="2.3" fill="#48486a"/>
<circle cx="736.9" cy="624.7" r="2.3" fill="#48486a"/>
<circle cx="736.9" cy="633.7" r="2.3" fill="#48486a"/>
</g>
<line x1="672.9" y1="518.05" x2="672.9" y2="653.85" stroke="#0e0e0e" stroke-width="1.5"/>
<line x1="667.3" y1="653.1" x2="672.9" y2="653.1" stroke="#0e0e0e" stroke-width="1.5"/>
<text x="665.2" y="657.94" font-size="12.6" text-anchor="end" font-weight="normal" fill="#0e0e0e">0</text>
<line x1="667.3" y1="626.24" x2="672.9" y2="626.24" stroke="#0e0e0e" stroke-width="1.5"/>
<text x="665.2" y="631.08" font-size="12.6" text-anchor="end" font-weight="normal" fill="#0e0e0e">20</text>
<line x1="667.3" y1="599.38" x2="672.9" y2="599.38" stroke="#0e0e0e" stroke-width="1.5"/>
<text x="665.2" y="604.22" font-size="12.6" text-anchor="end" font-weight="normal" fill="#0e0e0e">40</text>
<line x1="667.3" y1="572.52" x2="672.9" y2="572.52" stroke="#0e0e0e" stroke-width="1.5"/>
<text x="665.2" y="577.36" font-size="12.6" text-anchor="end" font-weight="normal" fill="#0e0e0e">60</text>
<line x1="667.3" y1="545.66" x2="672.9" y2="545.66" stroke="#0e0e0e" stroke-width="1.5"/>
<text x="665.2" y="550.5" font-size="12.6" text-anchor="end" font-weight="normal" fill="#0e0e0e">80</text>
<line x1="667.3" y1="518.8" x2="672.9" y2="518.8" stroke="#0e0e0e" stroke-width="1.5"/>
<text x="665.2" y="523.64" font-size="12.6" text-anchor="end" font-weight="normal" fill="#0e0e0e">100</text>
<line x1="667.2" y1="653.1" x2="763.3" y2="653.1" stroke="#0e0e0e" stroke-width="1.5"/>
<line x1="698.3" y1="653.1" x2="698.3" y2="658.1" stroke="#0e0e0e" stroke-width="1.5"/>
<line x1="736.9" y1="653.1" x2="736.9" y2="658.1" stroke="#0e0e0e" stroke-width="1.5"/>
<line x1="698.3" y1="579.1" x2="698.3" y2="592.3" stroke="#262626" stroke-width="1.15"/>
<line x1="692.2" y1="579.1" x2="704.4" y2="579.1" stroke="#262626" stroke-width="1.15"/>
<line x1="692.2" y1="592.3" x2="704.4" y2="592.3" stroke="#262626" stroke-width="1.15"/>
<circle cx="698.3" cy="551.4" r="2.2" fill="#333333"/>
<circle cx="694.2" cy="572.5" r="2.2" fill="#333333"/>
<circle cx="702.5" cy="570.6" r="2.2" fill="#333333"/>
<circle cx="694.2" cy="582.9" r="2.2" fill="#333333"/>
<circle cx="702.5" cy="581.4" r="2.2" fill="#333333"/>
<circle cx="694.2" cy="592.7" r="2.2" fill="#333333"/>
<circle cx="702.5" cy="592.7" r="2.2" fill="#333333"/>
<circle cx="698.3" cy="608.9" r="2.2" fill="#333333"/>
<circle cx="698.3" cy="617.7" r="2.2" fill="#333333"/>
<polyline points="698.3,542.4 698.3,525.7 736.9,525.7 736.9,532.5" fill="none" stroke="#0e0e0e" stroke-width="1.5"/>
<text x="717.2" y="518.72" font-size="12" text-anchor="middle" font-weight="normal" fill="#2b2b2b" style="stroke-width:0.1px">ns</text>
<text x="698.3" y="671.98" font-size="13" text-anchor="middle" font-weight="normal" fill="#0e0e0e">WT</text>
<text x="736.7" y="671.98" font-size="13" text-anchor="middle" font-weight="normal" fill="#0e0e0e">Mutant</text>
<text transform="translate(630.8 585) rotate(-90)" x="0" y="4.5" font-size="12.5" text-anchor="middle" font-weight="normal" fill="#0e0e0e">% Freezing</text>
</g>
<g>
<text x="3.8" y="720.93" font-size="13.7" text-anchor="middle" font-weight="bold" fill="#0e0e0e">I</text>
<text x="116.3" y="719.12" font-size="12" text-anchor="middle" font-weight="normal" fill="#0e0e0e">Female</text>
<rect x="52.5" y="833.1" width="19.2" height="38.9" fill="#c9dcf6" stroke="#0b0b1e" stroke-width="1.5"/>
<line x1="91.7" y1="782.1" x2="91.7" y2="806.3" stroke="#111" stroke-width="1.15"/>
<line x1="86.9" y1="782.1" x2="96.5" y2="782.1" stroke="#111" stroke-width="1.15"/>
<line x1="86.9" y1="806.3" x2="96.5" y2="806.3" stroke="#111" stroke-width="1.15"/>
<circle cx="91.7" cy="786.6" r="1.8" fill="#15222c"/>
<rect x="82.3" y="795.2" width="18.9" height="76.8" fill="#196078" stroke="#0b0b1e" stroke-width="1.5"/>
<line x1="84.66" y1="795.2" x2="84.66" y2="872" stroke="#052c3b" stroke-width="1.25"/>
<line x1="87.03" y1="795.2" x2="87.03" y2="872" stroke="#052c3b" stroke-width="1.25"/>
<line x1="89.39" y1="795.2" x2="89.39" y2="872" stroke="#052c3b" stroke-width="1.25"/>
<line x1="91.75" y1="795.2" x2="91.75" y2="872" stroke="#052c3b" stroke-width="1.25"/>
<line x1="94.11" y1="795.2" x2="94.11" y2="872" stroke="#052c3b" stroke-width="1.25"/>
<line x1="96.47" y1="795.2" x2="96.47" y2="872" stroke="#052c3b" stroke-width="1.25"/>
<line x1="98.84" y1="795.2" x2="98.84" y2="872" stroke="#052c3b" stroke-width="1.25"/>
<line x1="82.3" y1="869.64" x2="101.2" y2="869.64" stroke="#052c3b" stroke-width="0.55"/>
<line x1="82.3" y1="867.28" x2="101.2" y2="867.28" stroke="#052c3b" stroke-width="0.55"/>
<line x1="82.3" y1="864.91" x2="101.2" y2="864.91" stroke="#052c3b" stroke-width="0.55"/>
<line x1="82.3" y1="862.55" x2="101.2" y2="862.55" stroke="#052c3b" stroke-width="0.55"/>
<line x1="82.3" y1="860.19" x2="101.2" y2="860.19" stroke="#052c3b" stroke-width="0.55"/>
<line x1="82.3" y1="857.83" x2="101.2" y2="857.83" stroke="#052c3b" stroke-width="0.55"/>
<line x1="82.3" y1="855.46" x2="101.2" y2="855.46" stroke="#052c3b" stroke-width="0.55"/>
<line x1="82.3" y1="853.1" x2="101.2" y2="853.1" stroke="#052c3b" stroke-width="0.55"/>
<line x1="82.3" y1="850.74" x2="101.2" y2="850.74" stroke="#052c3b" stroke-width="0.55"/>
<line x1="82.3" y1="848.38" x2="101.2" y2="848.38" stroke="#052c3b" stroke-width="0.55"/>
<line x1="82.3" y1="846.01" x2="101.2" y2="846.01" stroke="#052c3b" stroke-width="0.55"/>
<line x1="82.3" y1="843.65" x2="101.2" y2="843.65" stroke="#052c3b" stroke-width="0.55"/>
<line x1="82.3" y1="841.29" x2="101.2" y2="841.29" stroke="#052c3b" stroke-width="0.55"/>
<line x1="82.3" y1="838.93" x2="101.2" y2="838.93" stroke="#052c3b" stroke-width="0.55"/>
<line x1="82.3" y1="836.56" x2="101.2" y2="836.56" stroke="#052c3b" stroke-width="0.55"/>
<line x1="82.3" y1="834.2" x2="101.2" y2="834.2" stroke="#052c3b" stroke-width="0.55"/>
<line x1="82.3" y1="831.84" x2="101.2" y2="831.84" stroke="#052c3b" stroke-width="0.55"/>
<line x1="82.3" y1="829.48" x2="101.2" y2="829.48" stroke="#052c3b" stroke-width="0.55"/>
<line x1="82.3" y1="827.11" x2="101.2" y2="827.11" stroke="#052c3b" stroke-width="0.55"/>
<line x1="82.3" y1="824.75" x2="101.2" y2="824.75" stroke="#052c3b" stroke-width="0.55"/>
<line x1="82.3" y1="822.39" x2="101.2" y2="822.39" stroke="#052c3b" stroke-width="0.55"/>
<line x1="82.3" y1="820.03" x2="101.2" y2="820.03" stroke="#052c3b" stroke-width="0.55"/>
<line x1="82.3" y1="817.66" x2="101.2" y2="817.66" stroke="#052c3b" stroke-width="0.55"/>
<line x1="82.3" y1="815.3" x2="101.2" y2="815.3" stroke="#052c3b" stroke-width="0.55"/>
<line x1="82.3" y1="812.94" x2="101.2" y2="812.94" stroke="#052c3b" stroke-width="0.55"/>
<line x1="82.3" y1="810.58" x2="101.2" y2="810.58" stroke="#052c3b" stroke-width="0.55"/>
<line x1="82.3" y1="808.21" x2="101.2" y2="808.21" stroke="#052c3b" stroke-width="0.55"/>
<line x1="82.3" y1="805.85" x2="101.2" y2="805.85" stroke="#052c3b" stroke-width="0.55"/>
<line x1="82.3" y1="803.49" x2="101.2" y2="803.49" stroke="#052c3b" stroke-width="0.55"/>
<line x1="82.3" y1="801.13" x2="101.2" y2="801.13" stroke="#052c3b" stroke-width="0.55"/>
<line x1="82.3" y1="798.76" x2="101.2" y2="798.76" stroke="#052c3b" stroke-width="0.55"/>
<line x1="82.3" y1="796.4" x2="101.2" y2="796.4" stroke="#052c3b" stroke-width="0.55"/>
<clipPath id="cb14"><rect x="83.05" y="795.95" width="17.4" height="75.3"/></clipPath>
<g clip-path="url(#cb14)">
<line x1="91.7" y1="782.1" x2="91.7" y2="806.3" stroke="#062a38" stroke-width="1.15"/>
<line x1="86.9" y1="782.1" x2="96.5" y2="782.1" stroke="#062a38" stroke-width="1.15"/>
<line x1="86.9" y1="806.3" x2="96.5" y2="806.3" stroke="#062a38" stroke-width="1.15"/>
<circle cx="91.7" cy="786.6" r="1.8" fill="#0a2836"/>
</g>
<rect x="131.5" y="825.2" width="19.3" height="46.8" fill="#c9dcf6" stroke="#0b0b1e" stroke-width="1.5"/>
<line x1="171" y1="799.6" x2="171" y2="816.4" stroke="#111" stroke-width="1.15"/>
<line x1="166.1" y1="799.6" x2="175.9" y2="799.6" stroke="#111" stroke-width="1.15"/>
<line x1="166.1" y1="816.4" x2="175.9" y2="816.4" stroke="#111" stroke-width="1.15"/>
<circle cx="171" cy="804.4" r="2" fill="#15222c"/>
<rect x="161.4" y="808.9" width="19.1" height="63.1" fill="#196078" stroke="#0b0b1e" stroke-width="1.5"/>
<line x1="163.79" y1="808.9" x2="163.79" y2="872" stroke="#052c3b" stroke-width="1.25"/>
<line x1="166.18" y1="808.9" x2="166.18" y2="872" stroke="#052c3b" stroke-width="1.25"/>
<line x1="168.56" y1="808.9" x2="168.56" y2="872" stroke="#052c3b" stroke-width="1.25"/>
<line x1="170.95" y1="808.9" x2="170.95" y2="872" stroke="#052c3b" stroke-width="1.25"/>
<line x1="173.34" y1="808.9" x2="173.34" y2="872" stroke="#052c3b" stroke-width="1.25"/>
<line x1="175.72" y1="808.9" x2="175.72" y2="872" stroke="#052c3b" stroke-width="1.25"/>
<line x1="178.11" y1="808.9" x2="178.11" y2="872" stroke="#052c3b" stroke-width="1.25"/>
<line x1="161.4" y1="869.61" x2="180.5" y2="869.61" stroke="#052c3b" stroke-width="0.55"/>
<line x1="161.4" y1="867.22" x2="180.5" y2="867.22" stroke="#052c3b" stroke-width="0.55"/>
<line x1="161.4" y1="864.84" x2="180.5" y2="864.84" stroke="#052c3b" stroke-width="0.55"/>
<line x1="161.4" y1="862.45" x2="180.5" y2="862.45" stroke="#052c3b" stroke-width="0.55"/>
<line x1="161.4" y1="860.06" x2="180.5" y2="860.06" stroke="#052c3b" stroke-width="0.55"/>
<line x1="161.4" y1="857.67" x2="180.5" y2="857.67" stroke="#052c3b" stroke-width="0.55"/>
<line x1="161.4" y1="855.29" x2="180.5" y2="855.29" stroke="#052c3b" stroke-width="0.55"/>
<line x1="161.4" y1="852.9" x2="180.5" y2="852.9" stroke="#052c3b" stroke-width="0.55"/>
<line x1="161.4" y1="850.51" x2="180.5" y2="850.51" stroke="#052c3b" stroke-width="0.55"/>
<line x1="161.4" y1="848.12" x2="180.5" y2="848.12" stroke="#052c3b" stroke-width="0.55"/>
<line x1="161.4" y1="845.74" x2="180.5" y2="845.74" stroke="#052c3b" stroke-width="0.55"/>
<line x1="161.4" y1="843.35" x2="180.5" y2="843.35" stroke="#052c3b" stroke-width="0.55"/>
<line x1="161.4" y1="840.96" x2="180.5" y2="840.96" stroke="#052c3b" stroke-width="0.55"/>
<line x1="161.4" y1="838.57" x2="180.5" y2="838.57" stroke="#052c3b" stroke-width="0.55"/>
<line x1="161.4" y1="836.19" x2="180.5" y2="836.19" stroke="#052c3b" stroke-width="0.55"/>
<line x1="161.4" y1="833.8" x2="180.5" y2="833.8" stroke="#052c3b" stroke-width="0.55"/>
<line x1="161.4" y1="831.41" x2="180.5" y2="831.41" stroke="#052c3b" stroke-width="0.55"/>
<line x1="161.4" y1="829.02" x2="180.5" y2="829.02" stroke="#052c3b" stroke-width="0.55"/>
<line x1="161.4" y1="826.64" x2="180.5" y2="826.64" stroke="#052c3b" stroke-width="0.55"/>
<line x1="161.4" y1="824.25" x2="180.5" y2="824.25" stroke="#052c3b" stroke-width="0.55"/>
<line x1="161.4" y1="821.86" x2="180.5" y2="821.86" stroke="#052c3b" stroke-width="0.55"/>
<line x1="161.4" y1="819.47" x2="180.5" y2="819.47" stroke="#052c3b" stroke-width="0.55"/>
<line x1="161.4" y1="817.09" x2="180.5" y2="817.09" stroke="#052c3b" stroke-width="0.55"/>
<line x1="161.4" y1="814.7" x2="180.5" y2="814.7" stroke="#052c3b" stroke-width="0.55"/>
<line x1="161.4" y1="812.31" x2="180.5" y2="812.31" stroke="#052c3b" stroke-width="0.55"/>
<line x1="161.4" y1="809.92" x2="180.5" y2="809.92" stroke="#052c3b" stroke-width="0.55"/>
<clipPath id="cb15"><rect x="162.15" y="809.65" width="17.6" height="61.6"/></clipPath>
<g clip-path="url(#cb15)">
<line x1="171" y1="799.6" x2="171" y2="816.4" stroke="#062a38" stroke-width="1.15"/>
<line x1="166.1" y1="799.6" x2="175.9" y2="799.6" stroke="#062a38" stroke-width="1.15"/>
<line x1="166.1" y1="816.4" x2="175.9" y2="816.4" stroke="#062a38" stroke-width="1.15"/>
<circle cx="171" cy="804.4" r="2" fill="#0a2836"/>
</g>
<line x1="41.6" y1="728.15" x2="41.6" y2="872.75" stroke="#0e0e0e" stroke-width="1.5"/>
<line x1="35.4" y1="872" x2="41.6" y2="872" stroke="#0e0e0e" stroke-width="1.5"/>
<text x="34.9" y="876.92" font-size="12" text-anchor="end" font-weight="normal" fill="#0e0e0e">0</text>
<line x1="35.4" y1="824.3" x2="41.6" y2="824.3" stroke="#0e0e0e" stroke-width="1.5"/>
<text x="34.9" y="829.22" font-size="12" text-anchor="end" font-weight="normal" fill="#0e0e0e">10</text>
<line x1="35.4" y1="776.6" x2="41.6" y2="776.6" stroke="#0e0e0e" stroke-width="1.5"/>
<text x="34.9" y="781.52" font-size="12" text-anchor="end" font-weight="normal" fill="#0e0e0e">20</text>
<line x1="35.4" y1="728.9" x2="41.6" y2="728.9" stroke="#0e0e0e" stroke-width="1.5"/>
<text x="34.9" y="733.42" font-size="12" text-anchor="end" font-weight="normal" fill="#0e0e0e">30</text>
<line x1="35.5" y1="872" x2="190.5" y2="872" stroke="#0e0e0e" stroke-width="1.5"/>
<line x1="76.8" y1="872" x2="76.8" y2="876.5" stroke="#0e0e0e" stroke-width="1.5"/>
<line x1="156.5" y1="872" x2="156.5" y2="876.5" stroke="#0e0e0e" stroke-width="1.5"/>
<rect x="102" y="729.8" width="13.9" height="6.6" fill="#fff" stroke="#0e0e0e" stroke-width="1.4"/>
<rect x="102" y="737.4" width="13.9" height="8" fill="#fff" stroke="#0e0e0e" stroke-width="1.4"/>
<line x1="104.32" y1="737.4" x2="104.32" y2="745.4" stroke="#0e0e0e" stroke-width="1.2"/>
<line x1="106.63" y1="737.4" x2="106.63" y2="745.4" stroke="#0e0e0e" stroke-width="1.2"/>
<line x1="108.95" y1="737.4" x2="108.95" y2="745.4" stroke="#0e0e0e" stroke-width="1.2"/>
<line x1="111.27" y1="737.4" x2="111.27" y2="745.4" stroke="#0e0e0e" stroke-width="1.2"/>
<line x1="113.58" y1="737.4" x2="113.58" y2="745.4" stroke="#0e0e0e" stroke-width="1.2"/>
<text x="123" y="737.3" font-size="10" text-anchor="start" font-weight="normal" fill="#0e0e0e">Familiar Object</text>
<text x="123" y="745.7" font-size="10" text-anchor="start" font-weight="normal" fill="#0e0e0e">New Object</text>
<line x1="62.1" y1="826.4" x2="62.1" y2="838.5" stroke="#111" stroke-width="1.15"/>
<line x1="56.6" y1="826.4" x2="67.6" y2="826.4" stroke="#111" stroke-width="1.15"/>
<line x1="56.6" y1="838.5" x2="67.6" y2="838.5" stroke="#111" stroke-width="1.15"/>
<line x1="141.1" y1="818.6" x2="141.1" y2="830" stroke="#111" stroke-width="1.15"/>
<line x1="136.1" y1="818.6" x2="146.1" y2="818.6" stroke="#111" stroke-width="1.15"/>
<line x1="136.1" y1="830" x2="146.1" y2="830" stroke="#111" stroke-width="1.15"/>
<circle cx="62" cy="804" r="2" fill="#15222c"/>
<circle cx="58.3" cy="818.8" r="2" fill="#15222c"/>
<circle cx="65.7" cy="816.3" r="2" fill="#15222c"/>
<circle cx="62" cy="822.6" r="2" fill="#15222c"/>
<circle cx="65.7" cy="830" r="2" fill="#15222c"/>
<circle cx="58.5" cy="834.5" r="2" fill="#15222c"/>
<circle cx="62.1" cy="834.5" r="2" fill="#15222c"/>
<circle cx="62.1" cy="840.5" r="2" fill="#15222c"/>
<circle cx="62.1" cy="845.5" r="2" fill="#15222c"/>
<circle cx="62.1" cy="850.5" r="2" fill="#15222c"/>
<circle cx="62.1" cy="860.6" r="2" fill="#15222c"/>
<circle cx="91.7" cy="737" r="1.8" fill="#15222c"/>
<circle cx="91.7" cy="756.7" r="1.8" fill="#15222c"/>
<circle cx="91.7" cy="766.1" r="1.8" fill="#15222c"/>
<circle cx="141.1" cy="793.7" r="2" fill="#15222c"/>
<circle cx="141.1" cy="800.4" r="2" fill="#15222c"/>
<circle cx="141.1" cy="815.8" r="2" fill="#15222c"/>
<circle cx="149.5" cy="815.4" r="2" fill="#15222c"/>
<circle cx="137.1" cy="829.2" r="2" fill="#15222c"/>
<circle cx="145.7" cy="829.5" r="2" fill="#15222c"/>
<circle cx="132.9" cy="833.5" r="2" fill="#15222c"/>
<circle cx="149.5" cy="835.2" r="2" fill="#15222c"/>
<circle cx="141.1" cy="836.9" r="2" fill="#15222c"/>
<circle cx="141.4" cy="856.9" r="2" fill="#15222c"/>
<circle cx="171" cy="756.4" r="2" fill="#15222c"/>
<circle cx="167.1" cy="796.6" r="2" fill="#15222c"/>
<circle cx="174.8" cy="795.2" r="2" fill="#15222c"/>
<polyline points="62,820.9 62,767.5 91.7,767.5 91.7,775.2" fill="none" stroke="#0e0e0e" stroke-width="1.5"/>
<polyline points="141.1,811.8 141.1,767.3 171,767.3 171,792.4" fill="none" stroke="#0e0e0e" stroke-width="1.15"/>
<text x="77.35" y="764.8" font-size="13.8" text-anchor="middle" font-weight="bold" fill="#0e0e0e" font-family="DejaVu Sans, Liberation Sans, sans-serif" letter-spacing="0.3" style="stroke-width:0.6px">**</text>
<text x="156" y="760.7" font-size="10" text-anchor="middle" font-weight="normal" fill="#2b2b2b" style="stroke-width:0.1px">ns</text>
<text x="76.8" y="890.62" font-size="12" text-anchor="middle" font-weight="normal" fill="#0e0e0e">WT</text>
<text x="156.5" y="890.62" font-size="12" text-anchor="middle" font-weight="normal" fill="#0e0e0e">Mutant</text>
<text transform="translate(10.2 798.7) rotate(-90)" x="0" y="4.28" font-size="11.9" text-anchor="middle" font-weight="normal" fill="#0e0e0e">Time (Sec)</text>
</g>
<g>
<text x="232.7" y="720.93" font-size="13.7" text-anchor="middle" font-weight="bold" fill="#0e0e0e">J</text>
<rect x="282.8" y="771.9" width="23.1" height="40.5" fill="#ffffff" stroke="#0b0b1e" stroke-width="2"/>
<line x1="332.8" y1="777.1" x2="332.8" y2="798.4" stroke="#111" stroke-width="1.15"/>
<line x1="326.5" y1="777.1" x2="339.1" y2="777.1" stroke="#111" stroke-width="1.15"/>
<line x1="326.5" y1="798.4" x2="339.1" y2="798.4" stroke="#111" stroke-width="1.15"/>
<circle cx="332.8" cy="759.3" r="2" fill="#0d0d0d"/>
<circle cx="328.5" cy="763.6" r="2" fill="#0d0d0d"/>
<circle cx="336.6" cy="765.8" r="2" fill="#0d0d0d"/>
<circle cx="336.6" cy="775.6" r="2" fill="#0d0d0d"/>
<circle cx="328.5" cy="779.4" r="2" fill="#0d0d0d"/>
<circle cx="332.8" cy="786.6" r="2" fill="#0d0d0d"/>
<circle cx="328.5" cy="797.9" r="2" fill="#0d0d0d"/>
<circle cx="336.6" cy="800.7" r="2" fill="#0d0d0d"/>
<rect x="320.9" y="788.3" width="23.7" height="24.1" fill="#08506e" stroke="#0b0b1e" stroke-width="2"/>
<clipPath id="cb16"><rect x="321.9" y="789.3" width="21.7" height="22.1"/></clipPath>
<g clip-path="url(#cb16)">
<line x1="332.8" y1="777.1" x2="332.8" y2="798.4" stroke="#0a1218" stroke-width="1.15"/>
<line x1="326.5" y1="777.1" x2="339.1" y2="777.1" stroke="#0a1218" stroke-width="1.15"/>
<line x1="326.5" y1="798.4" x2="339.1" y2="798.4" stroke="#0a1218" stroke-width="1.15"/>
<circle cx="332.8" cy="759.3" r="2" fill="#0a1218"/>
<circle cx="328.5" cy="763.6" r="2" fill="#0a1218"/>
<circle cx="336.6" cy="765.8" r="2" fill="#0a1218"/>
<circle cx="336.6" cy="775.6" r="2" fill="#0a1218"/>
<circle cx="328.5" cy="779.4" r="2" fill="#0a1218"/>
<circle cx="332.8" cy="786.6" r="2" fill="#0a1218"/>
<circle cx="328.5" cy="797.9" r="2" fill="#0a1218"/>
<circle cx="336.6" cy="800.7" r="2" fill="#0a1218"/>
</g>
<line x1="268.6" y1="730.95" x2="268.6" y2="866.95" stroke="#0e0e0e" stroke-width="1.5"/>
<line x1="263" y1="866.2" x2="268.6" y2="866.2" stroke="#0e0e0e" stroke-width="1.5"/>
<text x="261.5" y="869.55" font-size="9.3" text-anchor="end" font-weight="bold" fill="#0e0e0e" letter-spacing="0.5">-40</text>
<line x1="263" y1="839.3" x2="268.6" y2="839.3" stroke="#0e0e0e" stroke-width="1.5"/>
<text x="261.5" y="842.65" font-size="9.3" text-anchor="end" font-weight="bold" fill="#0e0e0e" letter-spacing="0.5">-20</text>
<line x1="263" y1="812.4" x2="268.6" y2="812.4" stroke="#0e0e0e" stroke-width="1.5"/>
<text x="261.5" y="815.75" font-size="9.3" text-anchor="end" font-weight="bold" fill="#0e0e0e" letter-spacing="0.5">0</text>
<line x1="263" y1="785.5" x2="268.6" y2="785.5" stroke="#0e0e0e" stroke-width="1.5"/>
<text x="261.5" y="788.85" font-size="9.3" text-anchor="end" font-weight="bold" fill="#0e0e0e" letter-spacing="0.5">20</text>
<line x1="263" y1="758.6" x2="268.6" y2="758.6" stroke="#0e0e0e" stroke-width="1.5"/>
<text x="261.5" y="761.95" font-size="9.3" text-anchor="end" font-weight="bold" fill="#0e0e0e" letter-spacing="0.5">40</text>
<line x1="263" y1="731.7" x2="268.6" y2="731.7" stroke="#0e0e0e" stroke-width="1.5"/>
<text x="261.5" y="735.05" font-size="9.3" text-anchor="end" font-weight="bold" fill="#0e0e0e" letter-spacing="0.5">60</text>
<line x1="263" y1="812.4" x2="358.1" y2="812.4" stroke="#0e0e0e" stroke-width="1.3"/>
<line x1="263" y1="866.2" x2="358.1" y2="866.2" stroke="#0e0e0e" stroke-width="1.3"/>
<line x1="294" y1="866.2" x2="294" y2="871.2" stroke="#0e0e0e" stroke-width="1.3"/>
<line x1="332.8" y1="866.2" x2="332.8" y2="871.2" stroke="#0e0e0e" stroke-width="1.3"/>
<line x1="294" y1="766.4" x2="294" y2="776.2" stroke="#111" stroke-width="1.15"/>
<line x1="287.5" y1="766.4" x2="300.5" y2="766.4" stroke="#111" stroke-width="1.15"/>
<line x1="287.5" y1="776.2" x2="300.5" y2="776.2" stroke="#111" stroke-width="1.15"/>
<circle cx="294" cy="748.9" r="2" fill="#0d0d0d"/>
<circle cx="294" cy="756.1" r="2" fill="#0d0d0d"/>
<circle cx="289.9" cy="763.6" r="2" fill="#0d0d0d"/>
<circle cx="298" cy="765.8" r="2" fill="#0d0d0d"/>
<circle cx="294" cy="769.6" r="2" fill="#0d0d0d"/>
<circle cx="294" cy="780.9" r="2" fill="#0d0d0d"/>
<circle cx="298" cy="787.1" r="2" fill="#0d0d0d"/>
<circle cx="289.9" cy="790.9" r="2" fill="#0d0d0d"/>
<circle cx="332.8" cy="863.8" r="2" fill="#0d0d0d"/>
<polyline points="294,740.8 294,733.3 332.8,733.3 332.8,750.8" fill="none" stroke="#0e0e0e" stroke-width="1.5"/>
<text x="313.1" y="725.51" font-size="10.8" text-anchor="middle" font-weight="normal" fill="#2b2b2b" style="stroke-width:0.1px">ns</text>
<text x="294.25" y="882.35" font-size="9.3" text-anchor="middle" font-weight="bold" fill="#0e0e0e" letter-spacing="0.5">Wt</text>
<text x="332.5" y="882.35" font-size="9.3" text-anchor="middle" font-weight="bold" fill="#0e0e0e" letter-spacing="0.4">Mutant</text>
<text transform="translate(236 798.7) rotate(-90)" x="0" y="3.78" font-size="10.5" text-anchor="middle" font-weight="bold" fill="#0e0e0e">D.I.</text>
</g>
<g>
<text x="394" y="716.13" font-size="13.7" text-anchor="middle" font-weight="bold" fill="#0e0e0e">M</text>
<text x="518.8" y="728.45" font-size="11.8" text-anchor="middle" font-weight="normal" fill="#0e0e0e">Female</text>
<rect x="537.7" y="849" width="20.1" height="17" fill="#c9dcf6" stroke="#0b0b1e" stroke-width="1.5"/>
<line x1="578.7" y1="858.4" x2="578.7" y2="863.5" stroke="#262626" stroke-width="1.15"/>
<line x1="573.5" y1="858.4" x2="583.9" y2="858.4" stroke="#262626" stroke-width="1.15"/>
<line x1="573.5" y1="863.5" x2="583.9" y2="863.5" stroke="#262626" stroke-width="1.15"/>
<circle cx="578.7" cy="843.7" r="2.4" fill="#333333"/>
<circle cx="577.2" cy="854.7" r="2.4" fill="#333333"/>
<circle cx="580.6" cy="854.7" r="2.4" fill="#333333"/>
<circle cx="570.6" cy="866.2" r="2.4" fill="#333333"/>
<circle cx="574" cy="866.2" r="2.4" fill="#333333"/>
<circle cx="577.2" cy="866.2" r="2.4" fill="#333333"/>
<circle cx="580.6" cy="866.2" r="2.4" fill="#333333"/>
<circle cx="583.8" cy="866.2" r="2.4" fill="#333333"/>
<circle cx="586.6" cy="866.2" r="2.4" fill="#333333"/>
<rect x="568.4" y="861.2" width="20.1" height="4.8" fill="#08506e" stroke="#0b0b1e" stroke-width="1.5"/>
<clipPath id="cb17"><rect x="569.15" y="861.95" width="18.6" height="3.3"/></clipPath>
<g clip-path="url(#cb17)">
<line x1="578.7" y1="858.4" x2="578.7" y2="863.5" stroke="#063b51" stroke-width="1.15"/>
<line x1="573.5" y1="858.4" x2="583.9" y2="858.4" stroke="#063b51" stroke-width="1.15"/>
<line x1="573.5" y1="863.5" x2="583.9" y2="863.5" stroke="#063b51" stroke-width="1.15"/>
<circle cx="578.7" cy="843.7" r="2.4" fill="#36505a"/>
<circle cx="577.2" cy="854.7" r="2.4" fill="#36505a"/>
<circle cx="580.6" cy="854.7" r="2.4" fill="#36505a"/>
<circle cx="570.6" cy="866.2" r="2.4" fill="#36505a"/>
<circle cx="574" cy="866.2" r="2.4" fill="#36505a"/>
<circle cx="577.2" cy="866.2" r="2.4" fill="#36505a"/>
<circle cx="580.6" cy="866.2" r="2.4" fill="#36505a"/>
<circle cx="583.8" cy="866.2" r="2.4" fill="#36505a"/>
<circle cx="586.6" cy="866.2" r="2.4" fill="#36505a"/>
</g>
<line x1="445" y1="730.95" x2="445" y2="866.75" stroke="#0e0e0e" stroke-width="1.5"/>
<line x1="439.4" y1="866" x2="445" y2="866" stroke="#0e0e0e" stroke-width="1.5"/>
<text x="437" y="871.66" font-size="12.4" text-anchor="end" font-weight="normal" fill="#0e0e0e">0</text>
<line x1="439.4" y1="839.14" x2="445" y2="839.14" stroke="#0e0e0e" stroke-width="1.5"/>
<text x="437" y="844.8" font-size="12.4" text-anchor="end" font-weight="normal" fill="#0e0e0e">20</text>
<line x1="439.4" y1="812.28" x2="445" y2="812.28" stroke="#0e0e0e" stroke-width="1.5"/>
<text x="437" y="817.94" font-size="12.4" text-anchor="end" font-weight="normal" fill="#0e0e0e">40</text>
<line x1="439.4" y1="785.42" x2="445" y2="785.42" stroke="#0e0e0e" stroke-width="1.5"/>
<text x="437" y="791.08" font-size="12.4" text-anchor="end" font-weight="normal" fill="#0e0e0e">60</text>
<line x1="439.4" y1="758.56" x2="445" y2="758.56" stroke="#0e0e0e" stroke-width="1.5"/>
<text x="437" y="764.22" font-size="12.4" text-anchor="end" font-weight="normal" fill="#0e0e0e">80</text>
<line x1="439.4" y1="731.7" x2="445" y2="731.7" stroke="#0e0e0e" stroke-width="1.5"/>
<text x="437" y="737.36" font-size="12.4" text-anchor="end" font-weight="normal" fill="#0e0e0e">100</text>
<line x1="439.3" y1="866" x2="599.8" y2="866" stroke="#0e0e0e" stroke-width="1.5"/>
<line x1="480.4" y1="866" x2="480.4" y2="871" stroke="#0e0e0e" stroke-width="1.5"/>
<line x1="563.5" y1="866" x2="563.5" y2="871" stroke="#0e0e0e" stroke-width="1.5"/>
<circle cx="455.3" cy="748.2" r="2.3" fill="#333333"/>
<circle cx="455.3" cy="763.9" r="2.3" fill="#333333"/>
<text x="470.6" y="752.35" font-size="13.2" text-anchor="start" font-weight="normal" fill="#0e0e0e">WT</text>
<text x="470.6" y="767.95" font-size="13.2" text-anchor="start" font-weight="normal" fill="#0e0e0e">Mutant</text>
<polyline points="465,855.5 465,824.1 495.9,824.1 495.9,859.1" fill="none" stroke="#0e0e0e" stroke-width="1.5"/>
<text x="480.4" y="816.59" font-size="11.5" text-anchor="middle" font-weight="normal" fill="#2b2b2b" style="stroke-width:0.1px">ns</text>
<circle cx="456.9" cy="861.2" r="2.05" fill="#333333"/>
<circle cx="458.6" cy="863.6" r="2.05" fill="#333333"/>
<circle cx="457.2" cy="866" r="2.05" fill="#333333"/>
<circle cx="459.56" cy="866" r="2.05" fill="#333333"/>
<circle cx="461.92" cy="866" r="2.05" fill="#333333"/>
<circle cx="464.28" cy="866" r="2.05" fill="#333333"/>
<circle cx="466.64" cy="866" r="2.05" fill="#333333"/>
<circle cx="469" cy="866" r="2.05" fill="#333333"/>
<circle cx="471.36" cy="866" r="2.05" fill="#333333"/>
<circle cx="473.72" cy="866" r="2.05" fill="#333333"/>
<circle cx="488.2" cy="866" r="2.05" fill="#333333"/>
<circle cx="490.49" cy="866" r="2.05" fill="#333333"/>
<circle cx="492.78" cy="866" r="2.05" fill="#333333"/>
<circle cx="495.07" cy="866" r="2.05" fill="#333333"/>
<circle cx="497.36" cy="866" r="2.05" fill="#333333"/>
<circle cx="499.65" cy="866" r="2.05" fill="#333333"/>
<circle cx="501.94" cy="866" r="2.05" fill="#333333"/>
<circle cx="504.23" cy="866" r="2.05" fill="#333333"/>
<line x1="548" y1="843.4" x2="548" y2="854.1" stroke="#262626" stroke-width="1.15"/>
<line x1="542.35" y1="843.4" x2="553.65" y2="843.4" stroke="#262626" stroke-width="1.15"/>
<line x1="542.35" y1="854.1" x2="553.65" y2="854.1" stroke="#262626" stroke-width="1.15"/>
<circle cx="539.5" cy="832.6" r="2.4" fill="#333333"/>
<circle cx="545.2" cy="832.6" r="2.4" fill="#333333"/>
<circle cx="550.8" cy="832.6" r="2.4" fill="#333333"/>
<circle cx="556.5" cy="832.6" r="2.4" fill="#333333"/>
<circle cx="548" cy="843.7" r="2.4" fill="#333333"/>
<circle cx="539.5" cy="866" r="2.4" fill="#333333"/>
<circle cx="545.2" cy="866" r="2.4" fill="#333333"/>
<circle cx="550.8" cy="866" r="2.4" fill="#333333"/>
<circle cx="556.5" cy="866" r="2.4" fill="#333333"/>
<polyline points="548,828.7 548,824.9 579.1,824.9 579.1,836.8" fill="none" stroke="#0e0e0e" stroke-width="1.5"/>
<text x="564.67" y="824.14" font-size="13.6" text-anchor="middle" font-weight="normal" fill="#0e0e0e" font-family="DejaVu Sans, Liberation Sans, sans-serif" letter-spacing="2.35" style="stroke-width:0.5px">*</text>
<text x="478.5" y="886.68" font-size="13" text-anchor="middle" font-weight="normal" fill="#0e0e0e">Pre-shock</text>
<text x="563.1" y="886.68" font-size="13" text-anchor="middle" font-weight="normal" fill="#0e0e0e">Post-shock</text>
<text transform="translate(402.3 795.3) rotate(-90)" x="0" y="4.43" font-size="12.3" text-anchor="middle" font-weight="normal" fill="#0e0e0e">% Freezing</text>
</g>
<g>
<text x="626.6" y="721.23" font-size="13.7" text-anchor="middle" font-weight="bold" fill="#0e0e0e">N</text>
<text x="711" y="728.2" font-size="12.5" text-anchor="middle" font-weight="normal" fill="#0e0e0e">Female</text>
<rect x="686.1" y="820.1" width="24.8" height="57.8" fill="#c9dcf6" stroke="#0b0b1e" stroke-width="1.5"/>
<line x1="736.9" y1="810" x2="736.9" y2="818.5" stroke="#262626" stroke-width="1.15"/>
<line x1="730.7" y1="810" x2="743.1" y2="810" stroke="#262626" stroke-width="1.15"/>
<line x1="730.7" y1="818.5" x2="743.1" y2="818.5" stroke="#262626" stroke-width="1.15"/>
<circle cx="736.9" cy="781.1" r="2.3" fill="#333333"/>
<circle cx="736.9" cy="804.1" r="2.3" fill="#333333"/>
<circle cx="732.8" cy="807.9" r="2.3" fill="#333333"/>
<circle cx="740.9" cy="807.9" r="2.3" fill="#333333"/>
<circle cx="732.8" cy="817.3" r="2.3" fill="#333333"/>
<circle cx="740.9" cy="817.3" r="2.3" fill="#333333"/>
<circle cx="736.9" cy="823" r="2.3" fill="#333333"/>
<circle cx="740.9" cy="829.5" r="2.3" fill="#333333"/>
<circle cx="732.8" cy="833.3" r="2.3" fill="#333333"/>
<rect x="724.7" y="814.1" width="24.8" height="63.8" fill="#08506e" stroke="#0b0b1e" stroke-width="1.5"/>
<clipPath id="cb18"><rect x="725.45" y="814.85" width="23.3" height="62.3"/></clipPath>
<g clip-path="url(#cb18)">
<line x1="736.9" y1="810" x2="736.9" y2="818.5" stroke="#063b51" stroke-width="1.15"/>
<line x1="730.7" y1="810" x2="743.1" y2="810" stroke="#063b51" stroke-width="1.15"/>
<line x1="730.7" y1="818.5" x2="743.1" y2="818.5" stroke="#063b51" stroke-width="1.15"/>
<circle cx="736.9" cy="781.1" r="2.3" fill="#36505a"/>
<circle cx="736.9" cy="804.1" r="2.3" fill="#36505a"/>
<circle cx="732.8" cy="807.9" r="2.3" fill="#36505a"/>
<circle cx="740.9" cy="807.9" r="2.3" fill="#36505a"/>
<circle cx="732.8" cy="817.3" r="2.3" fill="#36505a"/>
<circle cx="740.9" cy="817.3" r="2.3" fill="#36505a"/>
<circle cx="736.9" cy="823" r="2.3" fill="#36505a"/>
<circle cx="740.9" cy="829.5" r="2.3" fill="#36505a"/>
<circle cx="732.8" cy="833.3" r="2.3" fill="#36505a"/>
</g>
<line x1="672.9" y1="742.55" x2="672.9" y2="878.65" stroke="#0e0e0e" stroke-width="1.5"/>
<line x1="667.3" y1="877.9" x2="672.9" y2="877.9" stroke="#0e0e0e" stroke-width="1.5"/>
<text x="665.2" y="882.94" font-size="12.6" text-anchor="end" font-weight="normal" fill="#0e0e0e">0</text>
<line x1="667.3" y1="850.98" x2="672.9" y2="850.98" stroke="#0e0e0e" stroke-width="1.5"/>
<text x="665.2" y="856.02" font-size="12.6" text-anchor="end" font-weight="normal" fill="#0e0e0e">20</text>
<line x1="667.3" y1="824.06" x2="672.9" y2="824.06" stroke="#0e0e0e" stroke-width="1.5"/>
<text x="665.2" y="829.1" font-size="12.6" text-anchor="end" font-weight="normal" fill="#0e0e0e">40</text>
<line x1="667.3" y1="797.14" x2="672.9" y2="797.14" stroke="#0e0e0e" stroke-width="1.5"/>
<text x="665.2" y="802.18" font-size="12.6" text-anchor="end" font-weight="normal" fill="#0e0e0e">60</text>
<line x1="667.3" y1="770.22" x2="672.9" y2="770.22" stroke="#0e0e0e" stroke-width="1.5"/>
<text x="665.2" y="775.26" font-size="12.6" text-anchor="end" font-weight="normal" fill="#0e0e0e">80</text>
<line x1="667.3" y1="743.3" x2="672.9" y2="743.3" stroke="#0e0e0e" stroke-width="1.5"/>
<text x="665.2" y="749.34" font-size="12.6" text-anchor="end" font-weight="normal" fill="#0e0e0e">100</text>
<line x1="667.2" y1="877.9" x2="763.3" y2="877.9" stroke="#0e0e0e" stroke-width="1.5"/>
<line x1="698.3" y1="877.9" x2="698.3" y2="882.9" stroke="#0e0e0e" stroke-width="1.5"/>
<line x1="736.9" y1="877.9" x2="736.9" y2="882.9" stroke="#0e0e0e" stroke-width="1.5"/>
<line x1="698.3" y1="811.6" x2="698.3" y2="828.6" stroke="#262626" stroke-width="1.15"/>
<line x1="692" y1="811.6" x2="704.6" y2="811.6" stroke="#262626" stroke-width="1.15"/>
<line x1="692" y1="828.6" x2="704.6" y2="828.6" stroke="#262626" stroke-width="1.15"/>
<circle cx="698.3" cy="767.9" r="2.2" fill="#333333"/>
<circle cx="698.3" cy="792.8" r="2.2" fill="#333333"/>
<circle cx="702.5" cy="817.3" r="2.2" fill="#333333"/>
<circle cx="694.2" cy="820.1" r="2.2" fill="#333333"/>
<circle cx="698.3" cy="824.2" r="2.2" fill="#333333"/>
<circle cx="702.5" cy="834.8" r="2.2" fill="#333333"/>
<circle cx="694.2" cy="837.6" r="2.2" fill="#333333"/>
<circle cx="702.5" cy="839.9" r="2.2" fill="#333333"/>
<circle cx="698.3" cy="846.8" r="2.2" fill="#333333"/>
<polyline points="698.3,759.5 698.3,752.3 736.9,752.3 736.9,773.6" fill="none" stroke="#0e0e0e" stroke-width="1.5"/>
<text x="717.2" y="745.32" font-size="12" text-anchor="middle" font-weight="normal" fill="#2b2b2b" style="stroke-width:0.1px">ns</text>
<text x="698.3" y="897.68" font-size="13" text-anchor="middle" font-weight="normal" fill="#0e0e0e">WT</text>
<text x="736.7" y="897.68" font-size="13" text-anchor="middle" font-weight="normal" fill="#0e0e0e">Mutant</text>
<text transform="translate(630.6 806) rotate(-90)" x="0" y="4.5" font-size="12.5" text-anchor="middle" font-weight="normal" fill="#0e0e0e">% Freezing</text>
</g>
</svg>
</body>
</html>
